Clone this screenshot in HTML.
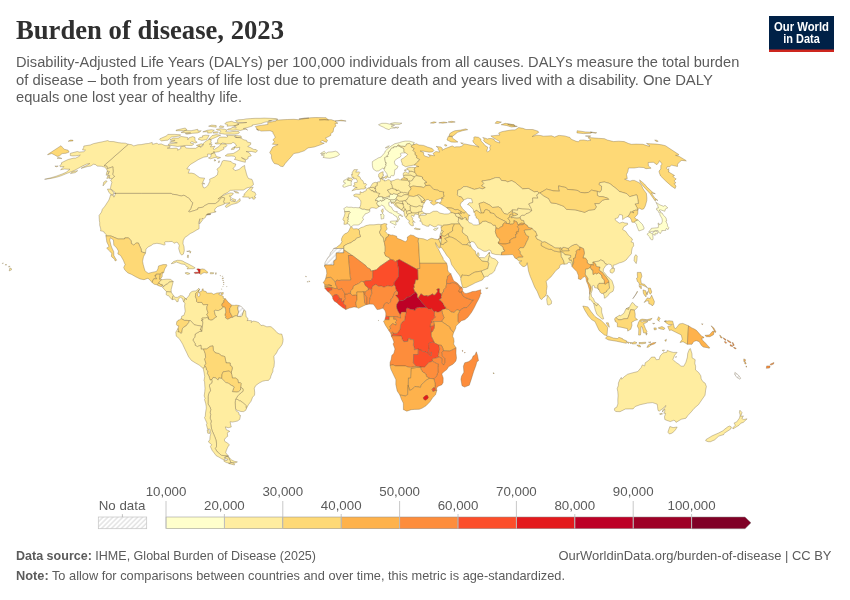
<!DOCTYPE html>
<html lang="en">
<head>
<meta charset="utf-8">
<title>Burden of disease, 2023</title>
<style>
html,body{margin:0;padding:0;background:#fff;}
body{width:850px;height:600px;overflow:hidden;}
svg{display:block;}
text{font-family:"Liberation Sans",sans-serif;}
.ttl{font-family:"Liberation Serif",serif;font-weight:bold;font-size:27px;fill:#2f2f2f;}
.sub{font-size:14px;fill:#5b5b5b;}
.ft{font-size:13px;fill:#5b5b5b;}
.lg{font-size:13.3px;fill:#5b5b5b;text-anchor:middle;}
.logo{font-weight:bold;font-size:12.2px;fill:#fff;text-anchor:middle;}
#map path{stroke:#6b5a3a;stroke-opacity:.75;stroke-width:.45;stroke-linejoin:round;}
</style>
</head>
<body>
<svg width="850" height="600" viewBox="0 0 850 600">
<rect width="850" height="600" fill="#fff"/>
<defs>
<pattern id="hatch" width="3.5" height="3.5" patternUnits="userSpaceOnUse" patternTransform="rotate(45)">
<rect width="3.5" height="3.5" fill="#fff"/><line x1="1" y1="0" x2="1" y2="3.5" stroke="#dadada" stroke-width="1.1"/>
</pattern>
</defs>
<text class="ttl" x="16" y="39" textLength="268" lengthAdjust="spacingAndGlyphs">Burden of disease, 2023</text>
<text class="sub" x="16" y="67" textLength="723.3" lengthAdjust="spacingAndGlyphs">Disability-Adjusted Life Years (DALYs) per 100,000 individuals from all causes. DALYs measure the total burden</text>
<text class="sub" x="16" y="84.7" textLength="696.8" lengthAdjust="spacingAndGlyphs">of disease – both from years of life lost due to premature death and years lived with a disability. One DALY</text>
<text class="sub" x="16" y="102.4" textLength="226" lengthAdjust="spacingAndGlyphs">equals one lost year of healthy life.</text>
<g id="logo">
<rect x="769" y="16" width="65" height="36" fill="#002147"/>
<rect x="769" y="49.5" width="65" height="2.5" fill="#ce261e"/>
<text class="logo" x="801.5" y="30.5" textLength="55" lengthAdjust="spacingAndGlyphs">Our World</text>
<text class="logo" x="801.5" y="42.5" textLength="36.5" lengthAdjust="spacingAndGlyphs">in Data</text>
</g>
<g id="map">
<path d="M128.2,144.3L131.3,144.6L133.8,145.9L137.7,144.8L141.3,144.6L145.6,143.7L148.4,143.5L152.2,142.4L152.4,144.3L157.1,143.2L158.2,144.3L161.2,143.9L165.1,145.6L170.0,145.9L170.1,147.4L167.2,148.1L170.7,148.5L176.2,148.1L178.0,149.0L177.6,150.3L181.1,148.3L180.4,146.8L184.9,146.1L185.8,147.9L189.6,148.3L195.6,148.3L197.6,147.0L199.6,145.6L200.6,147.4L203.1,145.4L203.1,143.5L206.3,140.9L209.5,139.2L211.3,139.8L210.8,141.7L211.6,143.2L209.2,144.1L212.2,144.6L210.4,146.8L215.0,146.3L213.0,149.0L214.4,149.4L219.2,146.3L221.0,143.9L225.9,144.1L226.9,145.4L226.0,146.8L223.5,147.4L224.1,149.0L218.8,151.7L214.0,152.4L213.9,151.2L214.0,152.4L210.6,154.2L207.6,154.0L207.6,156.5L203.6,157.2L201.7,158.1L198.2,159.7L194.9,161.8L190.8,164.2L188.6,166.3L186.8,169.0L189.7,169.4L188.2,173.1L191.5,173.1L194.4,173.8L196.0,175.0L199.8,177.7L204.7,178.2L202.2,183.4L202.6,185.4L203.4,187.6L204.9,187.9L207.6,185.9L209.9,181.2L209.6,179.2L214.6,177.0L217.4,174.8L218.0,171.1L216.9,169.2L220.3,166.3L222.4,161.1L223.8,160.4L228.0,160.9L231.2,161.6L232.7,163.2L235.8,164.0L235.1,166.3L232.9,168.7L234.0,169.2L235.0,170.7L239.1,169.4L242.2,166.8L244.6,165.4L245.0,168.7L245.8,171.1L246.5,174.0L247.4,176.5L248.5,178.5L252.0,179.4L253.0,182.2L253.5,184.6L250.6,187.1L247.0,187.9L243.3,190.1L239.3,190.1L235.3,190.1L230.2,190.4L227.3,192.7L223.6,194.4L220.6,197.2L217.9,199.0L222.0,196.2L225.7,194.4L230.2,192.9L233.2,193.2L233.3,193.9L231.2,196.0L229.2,196.0L231.2,197.2L230.2,200.3L231.6,201.1L232.5,201.3L236.5,201.8L240.0,198.5L240.2,201.1L237.2,203.1L231.5,204.6L226.5,207.5L225.3,206.7L226.3,204.9L230.0,202.8L227.9,203.1L224.7,203.4L224.0,202.8L223.5,201.8L224.7,198.2L223.9,197.7L222.1,197.5L219.9,199.3L218.6,201.3L215.3,203.6L208.7,203.6L204.6,205.7L203.0,207.2L197.9,208.0L197.9,209.3L195.2,210.3L189.3,212.1L188.4,211.1L190.1,209.8L190.7,208.7L192.8,202.8L191.3,201.6L190.0,199.8L189.6,198.8L184.0,195.2L181.3,196.0L179.1,195.5L176.0,194.7L172.0,194.2L171.3,193.4L141.3,193.4L114.5,193.4L115.2,192.7L113.2,190.9L110.4,188.6L110.9,185.9L111.9,182.2L110.6,180.2L112.4,178.5L114.5,176.2L112.6,174.5L113.2,171.4L112.9,168.7L112.9,166.8L107.3,168.7L107.0,166.3L104.0,165.6ZM113.3,194.9L110.5,194.2L108.9,192.2L107.4,189.1L110.0,189.1L112.4,190.7L113.6,192.7ZM103.0,185.9L103.7,182.2L105.9,180.7L107.1,181.2L105.2,183.4ZM242.5,197.0L244.8,194.7L243.9,194.4L248.4,189.6L250.5,187.6L253.2,187.1L251.2,190.4L251.9,191.2L255.0,192.4L255.9,194.7L254.1,197.0L255.8,197.2L254.3,199.3L252.7,199.0L252.8,197.2L249.1,198.8L249.1,197.2ZM231.3,199.5L232.4,198.5L236.1,199.9L234.7,201.1L232.8,200.5ZM233.9,191.2L237.6,191.9L238.8,193.2L235.4,192.7ZM257.5,151.0L256.2,149.6L253.7,149.4L250.4,147.6L247.7,146.5L250.6,144.6L250.8,142.8L247.2,142.0L246.6,140.4L243.8,139.8L242.1,138.7L239.7,137.7L235.9,137.5L235.8,135.6L233.4,135.6L228.9,135.4L226.5,135.4L228.0,136.4L226.4,137.3L225.0,137.1L219.9,137.1L217.9,139.2L217.4,141.3L218.1,142.4L214.9,143.2L216.0,143.9L221.0,143.9L222.5,143.0L226.9,143.9L231.2,143.7L232.9,142.4L234.5,143.0L236.5,145.6L233.8,147.2L236.7,147.9L239.7,147.2L239.4,149.6L236.4,151.7L233.2,153.5L227.7,154.0L226.1,155.1L225.2,155.8L227.2,156.2L231.4,156.0L234.2,156.2L236.0,157.9L234.3,159.3L238.2,160.4L239.7,160.9L243.2,161.8L245.3,162.3L245.5,160.2L241.4,157.6L246.1,159.7L248.1,158.6L248.0,156.9L251.3,155.8L249.3,152.8L246.1,151.5L251.8,151.5L255.6,152.4ZM220.6,157.6L216.4,156.5L214.5,152.8L211.1,154.0L210.8,156.9L208.4,157.9L210.4,158.8L216.0,157.2L217.6,158.8ZM214.5,159.5L216.0,160.4L214.3,161.1ZM219.1,160.7L219.4,162.3L218.3,162.5ZM169.7,142.2L173.8,142.2L177.3,142.8L168.7,143.9L168.1,145.2L172.2,145.6L177.7,146.5L180.7,146.1L186.3,145.4L192.0,145.6L193.9,143.9L190.3,143.0L191.7,141.5L195.2,143.0L197.2,142.2L195.0,140.7L195.0,137.5L192.7,136.6L189.2,137.7L187.8,139.8L187.8,137.5L181.0,136.4L178.3,138.1L173.5,138.1L169.9,139.8L171.3,140.4L175.1,140.2ZM159.5,139.3L161.3,140.9L165.1,140.4L167.8,140.2L171.5,137.1L179.9,136.0L180.6,134.8L174.9,134.4L167.8,134.4L166.7,135.8L160.1,138.7ZM201.8,140.4L198.1,139.2L199.8,137.5L202.7,137.1L202.4,135.8L205.4,135.2L209.1,135.4L208.0,137.3L206.6,139.6ZM208.7,139.2L212.1,135.6L216.2,134.6L220.7,135.2L215.4,137.5L211.4,139.2ZM200.3,146.8L196.4,145.4L201.3,143.7L203.3,144.6ZM197.9,131.1L201.2,130.7L200.0,131.9L197.7,132.9L192.6,133.3L186.9,134.2L185.3,133.6L190.7,132.9L181.1,132.5L185.4,130.5L191.2,130.7L197.7,129.3L198.1,130.1ZM176.0,130.7L183.6,130.7L187.0,129.9L185.3,128.0L176.1,130.1ZM211.4,132.9L207.6,133.1L207.9,131.7L202.8,131.9L207.0,130.3L211.5,129.7L214.3,130.3ZM217.5,133.1L213.0,133.1L213.8,132.1L217.2,131.7L218.4,132.3ZM239.0,133.1L237.4,133.8L234.8,134.2L228.4,134.2L224.8,134.2L219.2,133.3L220.9,131.1L220.1,130.3L217.2,130.1L216.4,129.3L220.7,128.7L224.7,129.3L226.8,129.9L225.8,131.7L229.9,131.9L232.8,131.5L236.2,131.3L238.5,131.5L239.4,132.3ZM247.6,130.1L245.8,128.9L240.3,130.5L236.8,129.9L232.0,130.3L229.9,130.1L227.3,129.9L228.2,128.9L231.3,128.5L232.1,127.2L236.2,128.0L235.7,126.6L233.6,126.2L236.1,125.1L238.7,124.6L237.8,123.9L239.1,123.3L242.8,123.0L246.8,122.5L238.6,122.5L236.9,121.8L235.5,120.6L238.4,119.8L243.2,119.5L246.0,118.9L250.6,118.6L255.2,118.3L260.1,118.3L264.2,118.1L269.9,118.3L276.1,118.6L277.9,119.3L273.8,120.1L268.5,120.8L271.6,120.8L264.5,122.3L260.8,123.7L254.2,124.7L252.1,125.1L252.4,126.0L250.5,126.6L246.0,128.0L243.3,128.5L245.7,128.9ZM235.9,125.5L227.0,126.2L227.6,124.6L224.8,123.9L226.2,122.3L231.7,121.3L234.0,122.3L237.6,122.8L238.6,124.4ZM216.2,127.2L208.6,126.2L211.6,125.1L216.2,125.5ZM223.4,127.4L219.2,127.2L220.3,125.7L223.8,126.4ZM241.5,137.5L235.4,137.5L234.5,136.4L236.6,135.6L241.0,136.0ZM231.3,149.6L234.2,149.2L234.5,147.4L232.0,148.1ZM202.6,183.6L204.7,184.1L204.0,182.9Z" fill="#ffeda0"><title>Canada</title></path>
<path d="M114.5,193.4L141.3,193.4L171.3,193.4L172.0,194.2L176.0,194.7L179.1,195.5L181.3,196.0L184.0,195.2L189.6,198.8L190.0,199.8L191.3,201.6L192.8,202.8L190.7,208.7L190.1,209.8L188.4,211.1L189.3,212.1L195.2,210.3L197.9,209.3L197.9,208.0L203.0,207.2L204.6,205.7L208.7,203.6L215.3,203.6L218.6,201.3L219.9,199.3L222.1,197.5L223.9,197.7L224.7,198.2L223.5,201.8L224.0,202.8L224.4,204.1L220.9,205.4L217.4,206.7L215.2,208.7L214.6,210.0L214.7,211.6L215.9,211.2L215.7,212.1L212.9,212.6L211.1,213.1L207.1,214.2L210.8,213.9L209.5,214.7L206.3,214.9L205.5,217.3L203.0,219.2L202.1,218.0L202.3,220.4L199.5,224.0L199.7,220.4L200.0,218.6L198.9,221.7L198.5,223.7L199.1,224.5L199.1,228.7L196.3,230.2L192.9,232.3L190.2,233.6L187.5,235.7L184.8,237.5L183.2,240.7L183.0,243.8L184.0,246.6L184.3,250.8L183.3,254.2L181.6,255.1L180.1,253.2L178.7,248.5L179.3,245.3L177.7,242.7L176.4,242.3L174.0,243.3L172.2,241.4L168.4,241.7L165.5,241.7L164.7,242.2L165.0,244.6L164.5,245.1L162.6,244.6L160.1,243.8L156.9,243.3L153.0,244.0L151.5,245.3L148.3,246.9L146.0,249.0L145.5,253.0L141.4,251.9L141.1,249.0L139.6,245.9L138.4,243.0L135.9,243.1L133.8,245.1L131.3,243.5L131.2,240.9L128.6,237.9L124.8,237.9L124.5,239.0L118.1,239.0L111.0,236.0L105.9,235.9L106.0,234.4L104.3,232.7L104.3,232.0L102.9,231.3L100.5,230.8L100.8,229.1L99.7,225.3L99.7,222.4L99.4,220.9L99.2,217.8L99.1,215.4L101.5,212.1L102.3,209.3L104.9,206.2L108.6,200.5L109.3,199.0L110.6,194.9L113.5,195.6L113.9,197.2L115.7,193.4ZM128.2,144.3L125.5,143.2L121.6,143.0L118.1,142.6L113.7,141.6L109.7,141.5L107.7,140.6L102.8,141.7L98.3,142.6L93.3,143.7L90.2,145.0L83.8,146.0L83.7,147.4L82.5,149.9L85.5,150.1L83.9,151.7L79.3,152.1L77.3,151.5L70.3,153.3L70.3,155.6L72.2,155.9L75.9,155.8L80.3,155.1L78.8,156.5L75.4,158.2L73.8,158.1L68.1,159.5L63.8,161.6L61.4,162.8L61.6,164.2L59.8,165.4L60.3,166.8L63.9,166.5L62.2,168.5L60.6,169.7L64.6,169.0L67.4,169.2L70.0,169.2L66.1,172.3L62.2,174.0L56.2,176.2L51.2,177.7L44.6,179.3L47.9,178.9L52.2,178.2L57.3,177.0L61.1,175.8L67.1,173.3L70.8,171.9L74.4,170.4L78.5,168.2L82.6,165.9L86.9,164.0L89.8,163.5L86.5,165.6L82.1,167.5L81.1,168.4L87.3,166.6L90.6,166.1L93.6,164.2L95.8,164.7L97.1,166.1L101.4,166.3L104.4,167.0L106.4,168.7L107.3,170.7L108.5,172.3L107.8,175.3L109.6,177.5L109.5,178.7L112.4,178.5L114.5,176.2L112.6,174.5L113.2,171.4L112.9,168.7L112.9,166.8L107.3,168.7L107.0,166.3L104.0,165.6ZM70.5,173.6L75.3,172.6L77.7,170.7L75.3,171.1L72.0,172.1ZM58.2,166.1L54.9,166.1L56.2,166.8ZM61.9,158.6L57.1,158.3L58.1,157.4L60.7,157.9ZM106.8,178.5L107.9,175.5L109.8,175.5L108.8,178.0ZM106.2,175.3L106.6,172.8L107.2,171.1L109.5,171.4L108.4,173.6ZM9.2,270.9L11.5,269.8L11.3,268.5L9.9,268.0ZM8.5,267.0L9.9,266.7L9.4,265.9ZM5.3,265.1L6.5,265.1L6.0,264.1ZM2.3,263.6L3.3,263.3L3.0,262.8ZM206.3,214.9L210.7,214.2L208.7,214.0Z" fill="#ffeda0"><title>United States</title></path>
<path d="M255.3,126.6L258.5,130.7L256.2,128.9L261.2,131.1L270.0,130.7L273.0,131.9L272.9,133.1L274.2,135.0L275.2,137.3L272.9,140.0L274.5,141.7L272.4,144.3L278.1,144.6L272.8,147.0L271.4,149.6L269.7,152.6L271.5,155.1L271.4,157.9L272.6,161.1L274.3,163.5L278.1,164.4L280.6,166.3L283.1,166.6L285.2,163.5L288.7,159.5L291.7,156.2L293.8,153.5L298.3,152.8L304.3,150.8L308.0,147.9L314.2,147.0L320.6,144.8L324.3,143.2L320.4,142.2L322.1,140.4L326.4,142.4L327.5,140.2L325.4,138.1L327.7,137.1L330.8,135.4L330.7,133.6L333.1,131.9L333.8,127.8L336.0,125.9L334.9,123.7L337.9,123.2L335.1,121.3L341.2,120.1L346.1,121.1L340.4,120.8L334.4,120.8L331.4,119.7L326.6,119.5L319.1,119.7L319.6,120.0L324.6,119.8L328.7,120.3L326.1,117.7L315.8,117.5L311.0,117.7L298.9,119.0L304.2,118.1L308.9,118.1L298.5,119.7L293.7,119.3L287.3,119.5L281.5,119.8L278.6,120.0L276.1,120.3L275.9,121.1L270.8,122.0L267.6,122.5L268.0,124.4L264.2,124.9L257.5,125.9Z" fill="#fed976"><title>Greenland</title></path>
<path d="M105.9,235.9L111.0,236.0L118.1,239.0L124.5,239.0L124.8,237.9L128.6,237.9L131.2,240.9L131.3,243.5L133.8,245.1L135.9,243.1L138.4,243.0L139.6,245.9L141.1,249.0L141.4,251.9L145.5,253.0L143.5,256.8L142.6,261.2L143.2,264.6L144.4,268.8L145.0,270.6L146.2,271.9L148.3,273.3L150.6,272.7L154.1,271.9L156.5,271.4L157.9,269.0L158.6,265.9L163.1,264.6L166.5,264.6L166.8,265.7L164.7,269.0L163.6,272.9L162.9,272.4L162.5,272.4L160.4,273.9L160.3,274.2L156.1,274.2L155.9,275.7L154.9,275.7L156.8,278.8L153.8,278.8L152.6,280.9L152.3,282.7L148.9,278.9L147.6,278.4L144.0,279.7L140.0,278.9L135.5,276.7L131.7,274.5L127.9,272.9L124.9,270.1L123.7,267.5L125.1,264.6L123.3,260.2L120.6,255.5L117.8,253.9L118.5,251.1L116.6,247.9L113.8,245.1L113.4,239.9L110.3,237.8L109.8,240.1L110.9,245.1L111.9,247.9L113.7,251.6L113.9,255.5L115.0,257.6L116.6,260.2L115.1,261.0L114.7,259.4L111.4,256.5L111.7,253.4L109.4,250.8L106.7,248.2L109.0,246.4L106.8,242.0L106.3,238.1Z" fill="#fed976"><title>Mexico</title></path>
<path d="M152.3,282.7L152.6,280.9L153.8,278.8L156.8,278.8L154.9,275.7L155.9,275.7L156.1,274.2L160.3,274.2L159.6,279.2L160.3,279.2L161.8,279.7L159.3,281.9L158.9,283.1L157.0,284.8L154.3,284.3Z" fill="#fed976"><title>Guatemala</title></path>
<path d="M160.3,274.2L160.4,273.9L162.5,272.4L162.9,272.4L162.2,274.8L162.2,276.6L160.3,279.2L159.6,279.2Z" fill="#fed976"><title>Belize</title></path>
<path d="M157.0,284.8L158.9,283.1L160.7,284.3L162.5,284.7L162.2,285.7L162.0,286.4L160.5,286.4L157.6,285.4Z" fill="#fed976"><title>El Salvador</title></path>
<path d="M161.8,279.7L159.3,281.9L158.9,283.1L160.7,284.3L162.5,284.7L162.2,285.7L163.1,285.7L163.2,286.7L164.6,286.0L166.2,284.1L167.1,284.5L169.1,282.1L173.2,281.5L172.7,280.9L170.3,279.3L166.9,279.2L163.5,279.5Z" fill="#ffeda0"><title>Honduras</title></path>
<path d="M173.2,281.5L169.1,282.1L167.1,284.5L166.2,284.1L164.6,286.0L163.2,286.7L162.3,287.0L164.8,289.9L166.5,291.7L168.8,291.8L171.2,292.1L171.2,289.4L171.9,286.7L172.6,284.1Z" fill="#ffeda0"><title>Nicaragua</title></path>
<path d="M166.5,291.7L168.8,291.8L171.2,292.1L173.5,295.7L172.6,297.0L172.4,299.6L170.9,298.6L168.5,295.6L167.6,295.6L166.1,294.6L166.4,292.2Z" fill="#ffeda0"><title>Costa Rica</title></path>
<path d="M173.5,295.7L172.6,297.0L172.4,299.6L174.5,299.2L176.3,300.7L176.9,301.9L178.3,301.3L178.2,299.2L180.4,297.3L182.6,298.7L183.2,301.1L183.8,301.9L185.3,298.1L182.7,296.0L180.5,295.6L177.4,297.4L175.1,297.3L174.2,296.6Z" fill="#ffeda0"><title>Panama</title></path>
<path d="M171.2,263.7L173.6,261.5L176.0,260.7L177.4,260.3L180.6,260.4L182.7,261.0L184.8,262.3L188.0,263.8L191.2,265.5L193.4,266.7L195.2,267.9L193.1,268.8L190.9,268.7L187.0,268.9L188.3,267.2L186.4,266.6L185.0,264.4L181.5,264.0L178.4,262.8L176.3,262.0L173.6,263.3Z" fill="#ffeda0"><title>Cuba</title></path>
<path d="M200.4,269.3L198.1,268.8L196.7,269.0L197.9,270.3L198.7,272.2L195.5,272.2L193.9,272.7L195.3,273.6L198.3,273.2L200.0,273.6Z" fill="#e31a1c"><title>Haiti</title></path>
<path d="M200.4,269.3L200.0,273.6L200.7,274.6L202.9,273.1L204.3,272.6L207.2,273.2L207.9,272.2L206.5,271.1L204.6,269.4L202.6,268.9Z" fill="#fed976"><title>Dominican Republic</title></path>
<path d="M185.0,272.9L187.0,272.4L189.7,273.3L189.6,274.0L187.5,274.4L185.3,273.3Z" fill="#ffeda0"><title>Jamaica</title></path>
<path d="M210.4,272.6L213.9,272.8L213.3,273.7L210.3,273.8Z" fill="#ffeda0"><title>Puerto Rico</title></path>
<path d="M187.6,255.0L188.5,255.2L188.3,257.8L187.3,257.3ZM189.3,250.6L190.9,251.6L190.2,253.2L189.7,251.9ZM186.7,251.3L189.0,251.1L188.2,251.6Z" fill="#ffeda0"><title>Bahamas</title></path>
<path d="M222.2,276.3L222.6,275.9L222.6,276.5ZM222.2,278.2L223.6,277.9L222.6,279.1ZM222.8,280.1L223.3,280.4L223.0,281.0ZM223.3,282.1L224.1,282.6L223.6,283.1ZM223.5,284.1L223.8,284.5L223.5,284.8ZM226.6,286.1L227.0,286.5L226.7,286.6ZM222.9,286.0L223.1,286.4L222.9,286.5ZM221.6,288.8L221.9,289.1L221.6,289.4ZM220.1,275.4L220.6,275.7L220.3,275.9ZM215.6,272.8L216.3,272.8L215.8,274.5Z" fill="#fed976"><title>Lesser Antilles</title></path>
<path d="M221.3,292.7L223.3,292.5L223.1,294.3L221.1,294.4Z" fill="#fed976"><title>Trinidad and Tobago</title></path>
<path d="M185.3,298.1L186.5,299.8L186.5,298.2L188.5,296.4L189.5,294.6L189.8,293.3L191.5,291.8L192.9,291.2L195.7,290.9L197.6,289.6L198.8,288.2L199.7,289.7L197.5,291.7L195.8,293.4L195.4,296.4L196.0,298.2L196.6,298.9L196.5,301.3L197.6,302.4L201.8,302.4L203.2,304.7L207.8,304.5L206.9,306.8L206.8,309.0L208.0,312.7L206.7,314.7L208.1,316.4L208.9,319.3L208.3,319.3L207.7,317.0L205.8,318.0L202.0,318.1L202.0,319.5L203.5,319.7L203.0,320.2L201.5,320.3L201.5,320.6L203.0,321.7L201.9,331.3L201.1,329.9L200.1,329.9L201.6,326.1L196.6,325.3L194.3,324.8L190.5,320.6L189.4,320.6L187.1,320.4L184.5,320.4L181.2,318.7L181.8,316.0L183.9,315.4L185.2,311.3L184.6,306.3L184.9,303.4L183.8,301.9Z" fill="#ffeda0"><title>Colombia</title></path>
<path d="M199.7,289.7L198.1,290.7L198.8,292.1L199.5,292.1L202.1,290.9L202.2,289.1L203.2,288.8L203.2,290.7L206.2,291.6L206.6,293.0L209.3,293.1L211.4,293.0L213.6,294.3L215.7,293.5L216.9,293.0L220.8,292.7L219.2,293.5L218.9,294.6L221.4,295.3L223.3,296.4L223.3,298.3L225.4,298.7L223.5,301.1L224.4,302.1L222.5,303.2L221.8,305.1L223.2,307.1L221.6,309.0L218.4,310.6L215.2,310.3L214.2,310.9L215.5,315.7L216.9,316.7L215.5,317.4L213.2,319.4L211.9,320.1L210.2,320.1L208.9,319.3L208.1,316.4L206.7,314.7L208.0,312.7L206.8,309.0L206.9,306.8L207.8,304.5L203.2,304.7L201.8,302.4L197.6,302.4L196.5,301.3L196.6,298.9L196.0,298.2L195.4,296.4L195.8,293.4L197.5,291.7Z" fill="#fed976"><title>Venezuela</title></path>
<path d="M198.8,292.2L199.7,293.0L200.0,295.1L198.8,296.9L197.7,295.9L197.9,293.5Z" fill="#ffffff"><title>Lake Maracaibo</title></path>
<path d="M225.4,298.7L228.5,302.6L229.3,302.9L231.5,305.1L231.1,306.8L229.7,308.1L229.8,312.0L232.8,317.4L231.0,317.4L229.3,318.6L227.5,319.3L225.4,317.8L225.7,316.4L224.8,315.1L225.7,312.3L225.5,309.3L224.7,307.1L223.2,307.1L221.8,305.1L222.5,303.2L224.4,302.1L223.5,301.1Z" fill="#feb24c"><title>Guyana</title></path>
<path d="M231.5,305.1L234.2,305.4L236.2,305.1L238.8,305.5L237.7,307.6L238.6,312.0L237.4,316.4L236.1,315.6L234.0,316.4L232.8,317.4L229.8,312.0L229.7,308.1L231.1,306.8Z" fill="#fed976"><title>Suriname</title></path>
<path d="M238.8,305.5L241.1,306.4L242.6,307.8L244.1,309.9L242.1,315.7L241.1,316.7L237.4,316.4L238.6,312.0L237.7,307.6Z" fill="url(#hatch)"><title>French Guiana</title></path>
<path d="M244.1,309.9L245.6,310.9L246.2,317.0L247.8,318.1L248.0,319.8L246.9,320.6L248.7,320.5L251.5,320.7L251.3,322.6L252.9,321.0L255.9,321.5L258.6,322.6L260.3,324.5L261.0,325.5L263.1,325.2L266.8,326.8L269.8,326.6L271.1,326.8L274.4,329.6L277.2,332.8L279.1,333.9L281.8,334.1L282.7,337.5L283.1,339.2L282.9,341.7L282.0,344.8L279.6,347.9L278.0,349.8L276.1,353.7L275.0,354.5L273.9,356.3L274.1,359.1L274.4,362.3L274.0,366.7L273.0,368.8L272.9,371.6L271.9,373.5L270.5,377.1L270.6,377.9L268.5,380.4L265.8,380.5L262.4,381.3L259.0,383.1L255.6,385.7L254.3,388.3L254.7,392.5L254.6,395.1L252.6,397.2L251.0,401.3L248.6,404.5L246.4,408.5L245.9,406.8L246.4,405.8L242.8,402.6L240.3,400.9L239.4,400.8L237.5,399.5L235.6,399.2L238.0,395.6L239.0,394.6L240.5,393.0L243.0,391.3L243.0,388.8L240.7,387.3L241.0,383.4L240.3,382.6L238.5,383.0L237.7,379.5L235.6,378.1L232.4,378.1L231.4,373.1L232.0,372.5L231.3,372.2L232.4,368.0L231.7,366.3L230.2,365.4L230.2,363.0L226.0,362.9L225.5,359.9L224.7,356.5L221.7,355.8L218.6,353.5L215.6,353.0L213.4,350.5L212.9,345.9L210.2,346.4L206.6,349.0L203.5,349.1L201.1,349.2L200.9,345.2L197.3,346.6L194.9,345.1L195.4,344.0L192.9,340.1L193.5,338.6L194.7,337.5L195.2,334.0L199.9,331.3L201.9,331.3L203.0,321.7L201.5,320.6L201.5,320.3L203.0,320.2L203.5,319.7L202.0,319.5L202.0,318.1L205.8,318.0L207.7,317.0L208.3,319.3L208.9,319.3L210.2,320.1L211.9,320.1L213.2,319.4L215.5,317.4L216.9,316.7L215.5,315.7L214.2,310.9L215.2,310.3L218.4,310.6L221.6,309.0L223.2,307.1L224.7,307.1L225.5,309.3L225.7,312.3L224.8,315.1L225.7,316.4L225.4,317.8L227.5,319.3L229.3,318.6L231.0,317.4L232.8,317.4L234.0,316.4L236.1,315.6L237.4,316.4L241.1,316.7L242.1,315.7Z" fill="#ffeda0"><title>Brazil</title></path>
<path d="M181.2,318.7L184.5,320.4L187.1,320.4L189.4,320.6L188.7,322.6L186.2,325.8L183.7,327.2L182.5,328.5L181.8,332.5L181.0,333.6L179.7,332.0L177.8,332.0L178.5,330.3L178.0,328.5L178.8,325.8L177.7,326.0L176.4,324.5L176.8,321.5L178.3,320.6L178.4,320.0L179.7,319.7Z" fill="#fed976"><title>Ecuador</title></path>
<path d="M178.0,328.5L175.8,332.2L176.3,336.2L179.2,338.6L181.4,342.0L182.7,344.3L185.1,349.5L186.4,352.1L188.6,356.8L191.4,360.4L195.5,363.0L199.2,365.1L203.1,368.4L204.2,367.7L205.0,366.2L204.7,365.4L205.9,363.6L205.1,360.4L204.6,359.1L205.6,357.6L205.3,353.7L203.5,349.1L201.1,349.2L200.9,345.2L197.3,346.6L194.9,345.1L195.4,344.0L192.9,340.1L193.5,338.6L194.7,337.5L195.2,334.0L199.9,331.3L201.9,331.3L201.1,329.9L200.1,329.9L201.6,326.1L196.6,325.3L194.3,324.8L190.5,320.6L189.4,320.6L188.7,322.6L186.2,325.8L183.7,327.2L182.5,328.5L181.8,332.5L181.0,333.6L179.7,332.0L177.8,332.0L178.5,330.3Z" fill="#ffeda0"><title>Peru</title></path>
<path d="M203.5,349.1L206.6,349.0L210.2,346.4L212.9,345.9L213.4,350.5L215.6,353.0L218.6,353.5L221.7,355.8L224.7,356.5L225.5,359.9L226.0,362.9L230.2,363.0L230.2,365.4L231.7,366.3L232.4,368.0L231.3,372.2L232.0,372.5L231.4,373.1L229.1,371.0L223.2,371.8L222.1,374.1L221.7,378.5L218.8,377.9L218.1,380.1L215.9,378.1L213.3,377.4L211.8,379.7L211.6,380.1L210.1,380.1L208.9,376.1L207.4,373.7L207.8,371.1L206.5,370.1L206.1,368.0L205.0,366.2L204.7,365.4L205.9,363.6L205.1,360.4L204.6,359.1L205.6,357.6L205.3,353.7Z" fill="#fed976"><title>Bolivia</title></path>
<path d="M231.4,373.1L232.4,378.1L235.6,378.1L237.7,379.5L238.5,383.0L240.3,382.6L241.0,383.4L240.7,387.3L240.6,390.0L238.4,391.8L236.8,392.1L232.3,391.7L234.0,387.3L233.7,386.5L231.1,385.2L228.1,383.1L225.8,382.6L221.7,378.5L222.1,374.1L223.2,371.8L229.1,371.0Z" fill="#fed976"><title>Paraguay</title></path>
<path d="M235.6,399.2L237.5,399.5L239.4,400.8L240.3,400.9L242.8,402.6L246.4,405.8L245.9,406.8L246.4,408.5L245.8,410.2L243.6,411.6L240.9,411.5L237.1,410.3L235.6,408.9L235.3,405.2L235.1,402.6L235.4,400.7Z" fill="#ffeda0"><title>Uruguay</title></path>
<path d="M211.6,380.1L211.8,379.7L213.3,377.4L215.9,378.1L218.1,380.1L218.8,377.9L221.7,378.5L225.8,382.6L228.1,383.1L231.1,385.2L233.7,386.5L234.0,387.3L232.3,391.7L236.8,392.1L238.4,391.8L240.6,390.0L240.7,387.3L243.0,388.8L243.0,391.3L240.5,393.0L239.0,394.6L238.0,395.6L235.6,399.2L235.4,400.7L235.1,402.6L235.3,405.2L235.6,408.9L235.8,409.9L236.0,410.7L238.9,412.8L239.1,414.9L240.5,415.4L239.7,419.5L237.3,421.1L232.4,422.1L230.1,421.7L230.8,425.2L231.3,427.0L228.3,427.7L225.3,426.9L226.4,429.9L228.2,430.4L229.8,431.4L227.9,432.2L227.4,433.2L227.7,436.3L225.7,437.8L224.3,439.9L224.8,441.4L227.1,442.8L229.4,444.7L227.8,447.0L227.0,448.8L226.2,450.8L225.7,452.7L228.5,456.2L221.3,455.3L219.5,453.6L217.2,451.8L215.2,448.5L216.5,446.5L216.5,443.2L215.9,439.9L214.9,437.1L213.6,434.0L211.9,430.1L211.2,427.0L210.7,423.4L211.3,421.1L210.1,418.2L210.7,414.6L210.1,412.3L210.8,409.7L210.1,407.3L208.0,403.9L208.1,399.8L208.1,396.4L208.9,393.0L210.5,390.6L209.4,386.2L209.6,384.4L211.7,383.1L212.1,380.5ZM228.4,456.9L230.9,462.5L235.1,462.9L237.4,461.9L234.4,461.3L231.7,460.0L229.7,458.1Z" fill="#ffeda0"><title>Argentina</title></path>
<path d="M203.1,368.4L204.2,367.7L205.0,366.2L206.1,368.0L206.5,370.1L207.8,371.1L207.4,373.7L208.9,376.1L210.1,380.1L211.6,380.1L212.1,380.5L211.7,383.1L209.6,384.4L209.4,386.2L210.5,390.6L208.9,393.0L208.1,396.4L208.1,399.8L208.0,403.9L210.1,407.3L210.8,409.7L210.1,412.3L210.7,414.6L210.1,418.2L211.3,421.1L210.7,423.4L211.2,427.0L211.9,430.1L213.6,434.0L214.9,437.1L215.9,439.9L216.5,443.2L216.5,446.5L215.2,448.5L217.2,451.8L219.5,453.6L221.3,455.3L228.5,456.2L226.5,456.6L224.3,457.3L225.0,459.3L224.5,460.0L221.6,458.8L218.9,457.1L216.3,455.8L214.0,452.8L212.1,450.3L210.4,446.5L211.7,444.7L208.4,441.9L209.8,439.6L210.1,436.3L210.8,433.7L210.4,431.2L209.9,429.1L207.6,429.1L206.4,424.7L207.0,423.2L205.3,419.5L204.5,417.5L205.3,416.2L205.5,413.0L206.3,408.1L206.2,406.5L205.7,403.4L204.5,399.5L205.1,398.5L204.2,395.9L204.8,391.2L205.0,388.3L204.7,384.4L204.6,381.8L204.0,380.8L204.7,376.6L204.2,373.2L203.5,369.8ZM208.4,429.5L207.2,429.9L207.7,433.2L209.7,433.5L209.0,430.7ZM228.4,456.9L226.7,456.6L225.1,457.3L225.8,459.0L228.0,459.0L227.1,460.5L224.3,460.3L223.6,461.0L226.2,462.5L229.5,463.2L230.9,462.5ZM231.4,462.7L234.1,463.2L234.5,465.0L231.3,464.2L228.6,463.5Z" fill="#ffeda0"><title>Chile</title></path>
<path d="M322.9,157.4L327.0,158.1L329.9,158.3L333.9,157.4L337.2,156.2L339.5,154.6L338.0,152.4L335.6,151.2L332.0,151.9L328.0,152.1L326.0,153.5L324.3,151.3L321.5,152.8L320.5,153.5L324.8,153.7L321.1,154.9L324.4,156.0Z" fill="#ffffcc"><title>Iceland</title></path>
<path d="M351.4,185.4L351.1,182.7L351.5,180.9L351.0,180.7L349.0,180.5L347.3,179.8L348.7,179.2L349.1,178.3L349.0,177.6L347.2,178.2L346.4,179.4L343.8,180.4L343.5,182.2L345.6,183.0L344.5,184.1L342.7,185.6L343.0,186.9L344.4,187.3L346.8,186.4L349.4,185.5Z" fill="#ffffcc"><title>Ireland</title></path>
<path d="M351.8,190.8L354.8,190.0L356.4,189.4L359.2,189.4L361.2,189.0L363.8,189.0L366.0,188.0L366.0,187.4L364.6,187.1L365.2,186.4L366.6,184.6L365.7,183.5L363.8,183.8L363.8,183.1L363.4,181.9L362.8,180.7L360.9,179.4L360.1,177.5L359.4,176.5L357.5,176.0L358.2,175.3L359.2,173.6L359.8,172.3L359.4,171.9L355.7,172.1L357.0,170.2L357.6,169.6L353.9,169.7L353.3,170.7L352.2,172.6L352.5,174.8L351.4,174.3L352.2,177.7L353.8,177.2L353.5,178.9L356.3,178.7L356.6,179.7L357.4,180.9L357.1,182.4L354.6,182.5L354.2,183.9L355.1,184.9L352.9,186.1L354.7,186.9L357.2,187.6L354.9,187.9L352.8,190.1ZM351.5,180.8L352.6,179.8L352.0,178.8L351.3,178.0L349.7,178.0L349.1,178.3L348.7,179.2L347.3,179.8L349.0,180.5L351.0,180.7Z" fill="#ffeda0"><title>United Kingdom</title></path>
<path d="M383.9,168.7L382.7,168.2L381.5,169.0L378.6,170.9L376.3,171.1L373.6,169.4L372.8,167.8L372.4,165.4L372.3,163.2L372.4,161.6L374.5,160.2L376.6,159.0L378.3,157.9L380.8,157.2L381.6,156.0L383.0,154.9L384.6,152.8L385.3,151.0L386.8,149.6L388.2,148.3L389.5,147.4L391.0,146.1L393.1,144.8L394.8,143.7L397.2,143.2L399.5,142.6L402.1,141.7L405.4,141.1L409.4,141.1L414.4,142.6L413.1,144.1L414.7,144.4L413.3,144.8L411.8,145.5L409.6,143.3L406.5,144.1L406.2,145.2L405.2,146.5L402.8,146.3L400.9,146.3L398.8,145.0L397.7,145.5L397.0,146.8L393.8,146.8L393.6,147.9L391.6,148.1L390.7,149.4L389.8,151.2L388.3,152.1L388.7,154.0L387.3,155.6L388.1,156.5L385.7,156.9L384.7,157.9L385.2,160.9L385.6,163.0L386.7,163.0L385.5,164.0L386.3,165.4L385.0,166.6L384.8,167.3L385.1,168.1ZM378.5,124.7L381.8,123.3L386.1,123.3L389.2,124.0L394.6,125.3L391.2,126.2L395.3,128.0L390.9,128.2L389.0,129.7L385.7,128.5L383.5,127.2L380.1,125.7ZM390.5,123.5L394.5,122.6L401.9,123.2L399.4,124.4L392.1,124.2ZM395.1,127.2L398.8,127.2L397.7,128.3ZM385.3,147.9L387.8,147.4L389.4,145.9L387.6,146.3Z" fill="#ffffcc"><title>Norway</title></path>
<path d="M383.9,168.7L384.4,170.4L385.6,171.9L386.9,173.8L387.4,175.5L388.0,177.2L388.6,177.6L390.5,177.5L390.6,176.2L391.3,175.6L393.6,175.8L394.4,174.3L394.6,171.9L394.8,169.7L396.5,169.0L397.9,166.8L398.0,166.3L395.1,164.7L394.4,162.3L394.7,160.7L396.3,159.3L398.4,157.9L400.1,157.2L401.1,155.6L400.4,153.7L401.8,153.0L405.2,152.8L404.1,151.7L404.0,150.5L404.0,149.0L403.1,148.1L400.3,146.8L398.5,145.9L397.7,145.5L397.0,146.8L393.8,146.8L393.6,147.9L391.6,148.1L390.7,149.4L389.8,151.2L388.3,152.1L388.7,154.0L387.3,155.6L388.1,156.5L385.7,156.9L384.7,157.9L385.2,160.9L385.6,163.0L386.7,163.0L385.5,164.0L386.3,165.4L385.0,166.6L384.8,167.3L385.1,168.1Z" fill="#ffffcc"><title>Sweden</title></path>
<path d="M405.2,152.8L407.4,154.0L407.7,154.6L406.4,155.8L403.8,157.9L401.3,159.3L401.2,160.7L402.2,163.5L402.2,164.7L404.2,165.9L405.5,166.7L409.0,166.0L411.9,165.4L414.2,165.0L416.4,163.2L417.7,162.0L419.7,159.5L416.5,157.6L417.0,155.8L415.3,154.9L415.1,153.0L415.6,153.0L413.0,150.3L414.3,148.5L411.3,146.8L411.8,145.5L409.6,143.3L406.5,144.1L406.2,145.2L405.2,146.5L402.8,146.3L400.9,146.3L398.8,145.0L397.7,145.5L398.5,145.9L400.3,146.8L403.1,148.1L404.0,149.0L404.0,150.5L404.1,151.7Z" fill="#ffeda0"><title>Finland</title></path>
<path d="M379.9,178.7L379.3,177.2L378.7,177.1L378.6,174.5L379.5,173.3L381.9,172.1L383.2,171.7L383.1,173.1L382.8,174.5L384.0,175.0L382.7,175.8L382.0,177.2L381.5,178.5L382.4,178.9ZM384.5,176.9L385.8,176.1L387.3,175.9L387.4,177.0L386.7,178.0L386.0,178.6L384.8,178.0ZM382.0,177.2L383.7,177.1L384.0,178.2L382.5,178.3Z" fill="#ffeda0"><title>Denmark</title></path>
<path d="M379.9,178.7L382.4,178.9L382.6,179.8L384.5,179.9L384.2,181.0L386.7,180.5L387.4,179.8L389.3,179.7L389.8,180.2L390.8,181.2L391.3,182.7L391.0,183.8L391.9,184.6L392.3,185.9L392.3,187.1L393.0,187.9L393.0,188.6L391.6,188.4L389.5,189.4L387.4,190.1L388.3,191.2L388.6,192.2L391.1,194.1L390.5,194.6L389.1,195.7L389.7,197.2L388.0,196.8L385.6,197.5L384.0,197.7L382.8,197.1L380.7,196.7L378.7,197.0L378.5,195.2L379.7,193.5L377.3,193.0L376.0,192.3L376.2,191.4L375.5,190.5L375.8,189.6L375.2,189.0L375.3,187.9L375.1,186.4L376.6,186.0L377.1,185.1L377.0,184.3L377.3,182.8L376.9,182.4L378.8,181.7L379.8,182.0L380.3,180.9L380.4,179.9Z" fill="#ffeda0"><title>Germany</title></path>
<path d="M377.3,182.8L377.0,184.3L377.1,185.1L376.6,186.0L375.1,186.4L375.3,187.9L375.2,189.0L374.6,188.9L374.7,188.0L373.1,187.3L371.7,187.5L369.9,187.5L371.1,185.9L372.2,183.9L372.6,183.4L373.9,182.7L375.3,182.3Z" fill="#ffeda0"><title>Netherlands</title></path>
<path d="M369.9,187.5L371.7,187.5L373.1,187.3L374.7,188.0L374.6,188.9L375.2,189.0L375.8,189.6L375.5,190.5L374.9,192.0L374.3,192.2L372.9,191.4L372.9,190.5L371.5,190.9L370.4,189.6L369.6,189.0L368.3,188.1Z" fill="#ffeda0"><title>Belgium</title></path>
<path d="M375.5,190.5L376.2,191.4L376.0,192.3L374.9,192.0Z" fill="#ffffcc"><title>Luxembourg</title></path>
<path d="M368.3,188.1L369.6,189.0L370.4,189.6L371.5,190.9L372.9,190.5L372.9,191.4L374.3,192.2L374.9,192.0L376.0,192.3L377.3,193.0L379.7,193.5L378.5,195.2L378.7,197.0L377.5,197.5L377.2,198.0L375.7,199.6L375.5,200.7L377.1,200.0L377.7,201.3L376.9,203.4L377.7,205.4L379.1,205.8L378.8,206.7L377.6,207.7L376.2,208.5L374.4,208.0L372.8,207.7L370.5,208.0L369.5,210.0L369.8,210.2L366.9,210.0L364.7,209.3L362.2,209.3L359.5,207.8L360.3,206.2L360.7,204.6L360.9,202.3L360.7,200.5L358.9,198.8L358.7,197.9L357.1,197.0L354.3,196.5L353.6,194.9L355.9,193.9L359.2,194.3L360.2,194.3L360.0,191.8L360.7,191.8L361.0,192.5L363.4,192.4L363.6,191.7L366.2,190.7L366.4,188.9ZM381.3,210.3L382.9,208.7L383.3,211.1L382.6,212.9L381.8,212.3Z" fill="#ffeda0"><title>France</title></path>
<path d="M369.8,210.2L369.9,211.6L367.8,213.0L365.1,213.9L364.7,214.7L363.2,216.7L362.6,217.8L363.6,219.7L362.1,220.9L361.7,222.6L359.1,224.4L358.7,225.0L355.6,225.0L353.7,225.0L351.6,226.5L350.2,226.3L349.6,225.4L349.4,224.5L347.2,223.7L347.2,222.7L348.2,221.1L347.6,220.5L348.2,218.8L347.2,217.4L348.3,217.3L348.5,215.7L348.8,213.9L350.1,212.3L349.3,211.4L346.0,211.7L344.6,211.6L344.5,210.0L343.7,208.7L345.9,207.3L346.7,206.8L348.6,207.3L351.3,207.2L353.8,207.7L355.7,207.5L356.9,207.7L359.5,207.8L362.2,209.3L364.7,209.3L366.9,210.0Z" fill="#ffffcc"><title>Spain</title></path>
<path d="M344.6,211.6L346.0,211.7L349.3,211.4L350.1,212.3L348.8,213.9L348.5,215.7L348.3,217.3L347.2,217.4L348.2,218.8L347.6,220.5L348.2,221.1L347.2,222.7L347.2,223.7L345.9,224.3L343.9,224.3L344.3,221.7L344.3,220.6L343.5,220.5L342.9,219.7L343.4,218.0L344.3,216.0L344.9,213.6Z" fill="#ffeda0"><title>Portugal</title></path>
<path d="M378.8,206.7L379.1,205.8L377.7,205.4L376.9,203.4L377.7,201.3L379.4,201.2L380.5,199.9L381.7,201.4L382.3,199.9L383.9,200.4L384.6,198.9L386.1,198.6L388.0,198.4L388.6,199.3L391.3,199.8L390.7,200.5L391.2,201.6L391.6,202.1L390.2,201.8L388.6,202.7L388.9,204.0L389.0,205.7L391.6,207.3L393.0,210.3L395.0,211.6L397.3,211.6L396.8,212.6L399.2,213.9L401.4,214.9L402.5,216.2L402.3,217.0L401.2,215.7L399.3,215.2L398.5,216.5L398.4,217.3L399.8,219.1L398.5,219.8L397.8,221.8L396.8,221.7L397.1,219.8L397.9,219.5L396.4,216.4L394.9,215.8L393.8,214.8L392.9,214.3L391.9,213.3L389.8,212.7L388.9,212.0L386.5,210.3L385.2,208.9L384.7,207.5L383.7,206.0L381.7,205.1L380.3,206.2ZM390.0,222.2L390.5,221.3L391.8,221.1L396.6,220.9L395.7,223.0L396.2,224.3L395.8,225.2L393.4,224.0L391.0,222.8ZM380.6,214.2L381.0,214.9L382.6,213.3L384.0,215.2L383.7,218.6L382.4,218.8L381.2,219.1L381.1,216.7Z" fill="#ffffcc"><title>Italy</title></path>
<path d="M378.7,197.0L380.7,196.7L382.8,197.1L382.6,198.2L384.6,198.9L383.9,200.4L382.3,199.9L381.7,201.4L380.5,199.9L379.4,201.2L377.7,201.3L377.1,200.0L375.5,200.7L375.7,199.6L377.2,198.0L377.5,197.5Z" fill="#ffffcc"><title>Switzerland</title></path>
<path d="M382.8,197.1L384.0,197.7L385.6,197.5L388.0,196.8L389.7,197.2L389.1,195.7L390.5,194.6L391.1,194.1L392.9,194.4L393.5,193.4L395.7,194.1L397.5,194.4L398.0,196.0L396.8,196.7L396.1,198.9L395.2,199.3L393.0,200.0L391.3,199.8L388.6,199.3L388.0,198.4L386.1,198.6L384.6,198.9L382.6,198.2Z" fill="#ffffcc"><title>Austria</title></path>
<path d="M387.4,190.1L389.5,189.4L391.6,188.4L393.0,188.6L393.9,188.9L395.8,189.3L395.6,189.9L397.0,189.9L396.6,190.7L398.6,190.1L401.1,192.2L399.7,193.2L397.9,193.8L397.5,194.4L395.7,194.1L393.5,193.4L392.9,194.4L391.1,194.1L388.6,192.2L388.3,191.2Z" fill="#ffeda0"><title>Czechia</title></path>
<path d="M397.5,194.4L397.9,193.8L399.7,193.2L401.1,192.2L402.4,192.0L403.1,192.9L404.6,192.4L408.7,193.2L408.1,194.9L406.7,194.7L404.7,194.7L402.8,195.6L401.4,196.5L398.0,196.0Z" fill="#ffeda0"><title>Slovakia</title></path>
<path d="M398.0,196.0L401.4,196.5L402.8,195.6L404.7,194.7L406.7,194.7L408.1,194.9L409.7,196.0L408.0,197.5L406.7,200.0L404.8,200.7L402.3,201.2L402.1,201.2L399.4,201.3L397.0,199.8L396.1,198.9L396.8,196.7Z" fill="#ffeda0"><title>Hungary</title></path>
<path d="M390.8,181.2L394.2,180.3L395.9,179.4L398.5,178.9L399.4,179.9L401.1,179.8L407.4,180.1L408.9,181.0L410.1,184.1L408.9,185.1L410.1,187.1L411.2,188.8L410.3,189.9L408.7,192.0L408.7,193.2L404.6,192.4L403.1,192.9L402.4,192.0L401.1,192.2L398.6,190.1L396.6,190.7L397.0,189.9L395.6,189.9L395.8,189.3L393.9,188.9L393.0,188.6L393.0,187.9L392.3,187.1L392.3,185.9L391.9,184.6L391.0,183.8L391.3,182.7Z" fill="#ffeda0"><title>Poland</title></path>
<path d="M404.1,177.8L403.4,175.8L405.1,175.0L410.6,175.0L414.2,176.7L414.3,177.7L413.0,178.7L412.6,180.2L410.7,181.2L408.9,181.0L407.4,180.1L407.2,178.7Z" fill="#ffeda0"><title>Lithuania</title></path>
<path d="M403.4,175.8L403.1,174.0L403.6,172.8L405.7,171.7L407.0,172.7L408.8,173.4L409.0,171.4L411.1,171.1L414.8,172.2L416.0,173.9L416.9,175.6L414.2,176.7L410.6,175.0L405.1,175.0Z" fill="#ffeda0"><title>Latvia</title></path>
<path d="M409.0,171.4L409.1,170.3L407.0,169.4L406.8,168.2L409.1,167.6L411.3,167.3L415.2,167.6L414.3,169.2L414.7,170.4L414.8,172.2L411.1,171.1ZM404.5,170.9L406.6,169.9L404.8,169.7Z" fill="#ffeda0"><title>Estonia</title></path>
<path d="M408.9,181.0L410.7,181.2L412.6,180.2L413.0,178.7L414.3,177.7L414.2,176.7L416.9,175.6L421.0,176.4L422.5,177.0L422.7,178.9L424.9,180.7L427.0,182.3L424.6,182.9L425.9,185.6L423.7,187.6L421.0,186.9L417.0,186.5L413.0,186.0L410.1,187.1L408.9,185.1L410.1,184.1Z" fill="#ffeda0"><title>Belarus</title></path>
<path d="M410.1,187.1L413.0,186.0L417.0,186.5L421.0,186.9L423.7,187.6L425.9,185.6L429.7,185.0L431.2,186.5L433.8,189.4L437.9,189.9L439.4,191.2L443.8,191.9L443.4,193.9L444.3,196.3L441.3,198.2L438.5,199.3L435.7,200.3L435.3,201.8L438.7,202.6L436.4,203.6L433.8,205.1L432.7,204.6L430.3,202.7L432.3,201.3L432.2,200.8L429.6,200.8L428.3,199.4L426.2,199.8L424.4,202.7L421.4,202.5L422.7,200.8L424.9,200.0L422.6,197.4L418.9,194.8L417.2,195.3L413.8,196.6L409.7,196.0L408.1,194.9L408.7,193.2L408.7,192.0L410.3,189.9L411.2,188.8Z" fill="#fed976"><title>Ukraine</title></path>
<path d="M417.2,195.3L418.9,194.8L422.6,197.4L424.9,200.0L422.7,200.8L421.4,202.5L420.8,199.5L418.5,196.7Z" fill="#ffeda0"><title>Moldova</title></path>
<path d="M404.8,200.7L406.7,200.0L408.0,197.5L409.7,196.0L413.8,196.6L417.2,195.3L418.5,196.7L420.8,199.5L421.4,202.5L424.4,202.7L422.8,205.1L422.8,206.8L419.3,205.8L416.2,207.1L410.4,205.7L409.6,204.4L407.5,204.1L407.6,203.1L406.0,201.7Z" fill="#ffeda0"><title>Romania</title></path>
<path d="M410.4,205.7L416.2,207.1L419.3,205.8L422.8,206.8L421.7,209.5L422.1,211.3L418.8,212.1L416.0,213.1L411.8,213.0L410.2,210.5L410.2,208.2L409.8,206.2Z" fill="#ffeda0"><title>Bulgaria</title></path>
<path d="M402.1,201.2L402.3,201.2L404.8,200.7L406.0,201.7L407.6,203.1L407.5,204.1L409.6,204.4L410.4,205.7L409.8,206.2L410.2,208.2L410.2,210.5L408.4,210.7L406.6,211.7L406.3,210.8L405.4,209.9L405.7,209.1L403.4,207.5L403.8,206.2L402.9,205.3L403.3,203.9L402.5,203.6L402.5,202.3Z" fill="#ffeda0"><title>Serbia</title></path>
<path d="M391.3,202.5L391.8,203.9L392.7,202.8L394.0,203.9L394.8,205.7L397.4,207.5L399.8,208.7L401.9,210.2L401.9,209.9L400.1,208.7L396.9,205.7L395.8,204.1L395.8,203.1L398.1,203.0L400.4,203.4L402.5,203.9L403.3,203.9L402.5,203.6L402.5,202.3L402.1,201.2L399.4,201.3L397.0,199.8L395.3,200.5L394.8,202.3L393.3,201.9Z" fill="#ffeda0"><title>Croatia</title></path>
<path d="M391.3,199.8L393.0,200.0L395.2,199.3L396.1,198.9L397.0,199.8L395.3,200.5L394.8,202.3L393.3,201.9L391.3,202.5L391.6,202.1L391.2,201.6L390.7,200.5Z" fill="#ffffcc"><title>Slovenia</title></path>
<path d="M395.8,204.1L396.9,205.7L400.1,208.7L401.9,209.9L402.0,209.8L403.4,207.5L403.8,206.2L402.9,205.3L403.3,203.9L402.5,203.9L400.4,203.4L398.1,203.0L395.8,203.1Z" fill="#ffeda0"><title>Bosnia and Herzegovina</title></path>
<path d="M401.9,210.2L402.0,209.8L403.4,207.5L405.7,209.1L405.4,209.9L404.3,209.9L404.0,211.7Z" fill="#ffeda0"><title>Montenegro</title></path>
<path d="M404.0,211.7L404.3,209.9L405.4,209.9L406.3,210.8L406.6,211.7L406.5,213.1L407.7,214.3L407.2,216.2L405.8,217.3L404.4,215.6L404.2,212.9Z" fill="#ffeda0"><title>Albania</title></path>
<path d="M406.6,211.7L408.4,210.7L410.2,210.5L411.8,213.0L409.7,213.5L407.7,214.3L406.5,213.1Z" fill="#ffeda0"><title>North Macedonia</title></path>
<path d="M405.8,217.3L407.2,216.2L407.7,214.3L409.7,213.5L411.8,213.0L416.0,213.1L418.8,212.1L418.4,214.5L414.9,214.0L414.2,215.4L414.0,216.5L412.9,215.8L411.8,215.2L411.3,216.5L413.0,218.6L412.2,219.3L414.9,222.6L414.1,221.7L412.6,221.9L413.2,223.5L413.4,225.7L411.9,225.8L410.1,224.8L408.6,222.2L409.7,220.9L407.5,219.6L406.3,218.3ZM414.3,228.7L415.3,228.0L417.7,228.6L420.4,228.9L420.0,229.5L417.0,229.6L414.3,228.8Z" fill="#ffeda0"><title>Greece</title></path>
<path d="M433.5,229.7L433.7,229.3L434.9,228.6L438.2,227.8L437.0,229.5L435.1,230.5Z" fill="#ffffcc"><title>Cyprus</title></path>
<path d="M394.0,226.9L394.7,227.1L394.4,227.4Z" fill="#ffffcc"><title>Malta</title></path>
<path d="M358.4,229.2L356.7,228.7L353.6,228.9L351.7,227.1L350.4,227.4L349.5,229.5L348.3,231.9L346.6,233.1L344.6,233.9L342.8,236.0L341.6,238.6L341.5,240.9L342.0,241.4L340.5,244.3L338.5,245.7L336.5,247.4L333.7,248.5L343.9,248.5L343.9,245.9L347.7,243.8L351.0,242.7L353.2,240.9L355.2,240.1L356.6,238.1L360.3,237.0L360.6,236.0L359.5,233.4L359.5,230.8Z" fill="#fed976"><title>Morocco</title></path>
<path d="M333.7,248.5L332.3,251.1L330.7,252.4L329.7,255.5L327.6,258.1L327.2,258.9L325.0,262.8L324.6,266.4L325.0,265.0L333.8,265.0L333.9,260.7L336.2,259.5L336.3,252.9L343.8,252.9L343.9,248.5Z" fill="url(#hatch)"><title>Western Sahara</title></path>
<path d="M324.6,266.4L326.4,269.8L326.8,273.5L325.6,278.7L327.9,277.5L330.6,277.4L332.8,279.2L335.1,282.1L336.9,280.0L338.8,280.5L341.7,280.2L350.6,280.2L351.0,278.1L350.4,277.6L348.4,255.5L352.4,255.5L343.8,249.5L343.8,252.9L336.3,252.9L336.2,259.5L333.9,260.7L333.8,265.0L325.0,265.0Z" fill="#feb24c"><title>Mauritania</title></path>
<path d="M358.4,229.2L361.0,227.6L363.4,226.9L366.0,225.6L369.7,224.8L374.0,224.8L378.1,224.3L381.8,224.5L380.9,225.8L381.2,228.9L379.6,231.8L379.6,232.6L381.4,236.0L383.1,237.0L384.2,241.7L385.2,246.9L385.2,251.6L384.3,252.4L385.7,256.0L389.3,257.6L390.2,259.4L380.2,266.2L376.4,269.8L372.8,270.7L370.7,271.1L370.2,269.0L367.3,267.7L365.9,265.7L352.4,255.5L343.8,249.5L343.9,248.5L343.9,245.9L347.7,243.8L351.0,242.7L353.2,240.9L355.2,240.1L356.6,238.1L360.3,237.0L360.6,236.0L359.5,233.4L359.5,230.8Z" fill="#ffeda0"><title>Algeria</title></path>
<path d="M381.8,224.5L384.3,223.5L385.4,223.7L387.1,224.1L386.1,225.8L386.9,228.2L387.3,228.9L385.2,231.3L386.4,232.8L387.5,233.9L388.5,234.3L388.5,236.2L385.9,237.8L385.7,240.1L384.2,241.7L383.1,237.0L381.4,236.0L379.6,232.6L379.6,231.8L381.2,228.9L380.9,225.8Z" fill="#fed976"><title>Tunisia</title></path>
<path d="M388.5,234.3L391.1,235.2L392.2,234.9L396.6,236.2L397.1,238.3L400.7,239.6L405.3,241.7L407.4,240.1L407.4,237.0L410.6,234.9L413.9,235.7L416.0,237.3L418.6,238.2L418.2,241.2L418.7,244.6L419.7,263.3L419.9,268.5L417.6,268.5L417.7,269.8L399.3,259.5L397.0,260.7L395.2,261.7L393.6,260.2L390.2,259.4L389.3,257.6L385.7,256.0L384.3,252.4L385.2,251.6L385.2,246.9L384.2,241.7L385.7,240.1L385.9,237.8L388.5,236.2Z" fill="#feb24c"><title>Libya</title></path>
<path d="M418.6,238.2L423.4,238.8L427.3,240.3L429.4,239.1L431.5,238.3L433.8,238.8L434.5,239.1L437.8,239.6L438.8,239.1L440.7,243.8L439.9,247.7L439.5,248.3L438.0,246.9L435.5,242.6L435.6,243.8L436.9,246.9L438.2,248.7L439.2,250.8L440.8,254.2L443.1,258.1L443.2,259.4L446.6,263.3L419.7,263.3L418.7,244.6L418.2,241.2Z" fill="#fed976"><title>Egypt</title></path>
<path d="M446.6,263.3L447.4,265.9L447.6,269.6L448.4,271.9L450.8,273.7L449.7,275.0L447.5,276.3L447.4,278.4L446.5,281.0L446.7,283.4L445.9,287.5L443.7,289.9L443.4,292.2L442.0,293.0L441.6,295.9L441.1,295.9L441.1,294.0L439.4,292.7L439.2,290.9L439.3,288.8L438.2,288.8L436.8,289.4L437.3,290.1L437.6,291.7L434.9,295.1L434.0,295.2L432.1,293.8L431.0,295.1L429.9,295.3L427.6,296.4L427.3,295.6L424.1,295.9L420.9,293.8L420.2,295.1L418.2,297.9L417.2,297.4L417.2,294.3L415.8,292.2L414.9,292.0L413.2,287.8L414.3,287.5L413.8,284.7L414.7,283.9L415.5,279.7L418.0,279.7L417.7,269.8L417.6,268.5L419.9,268.5L419.7,263.3Z" fill="#feb24c"><title>Sudan</title></path>
<path d="M418.2,297.9L420.2,295.1L420.9,293.8L424.1,295.9L427.3,295.6L427.6,296.4L429.9,295.3L431.0,295.1L432.1,293.8L434.0,295.2L434.9,295.1L437.6,291.7L437.3,290.1L436.8,289.4L438.2,288.8L439.3,288.8L439.2,290.9L439.4,292.7L441.1,294.0L441.1,295.9L441.6,298.2L440.5,298.7L439.1,300.0L440.8,300.5L443.1,303.2L444.6,306.5L445.7,306.8L445.7,308.7L441.6,309.9L440.5,311.4L437.5,312.3L435.2,311.3L434.4,312.3L431.4,308.7L428.7,309.6L426.5,307.6L424.3,305.0L421.5,301.9L419.6,299.5Z" fill="#e31a1c"><title>South Sudan</title></path>
<path d="M446.7,283.4L449.2,283.6L451.2,282.8L452.6,282.6L454.7,282.8L456.8,283.9L458.7,285.7L460.4,288.1L459.0,290.7L459.0,292.0L461.7,292.0L461.3,293.0L462.0,294.0L463.4,296.1L464.4,297.2L471.4,299.8L473.7,299.8L466.9,307.6L464.6,307.7L462.3,308.7L460.1,310.3L459.8,310.7L457.3,309.8L455.0,311.1L454.3,312.5L451.1,312.0L448.5,309.5L446.2,309.2L445.7,308.7L445.7,306.8L444.6,306.5L443.1,303.2L440.8,300.5L439.1,300.0L440.5,298.7L441.6,298.2L441.1,295.9L441.6,295.9L442.0,293.0L443.4,292.2L443.7,289.9L445.9,287.5Z" fill="#fd8d3c"><title>Ethiopia</title></path>
<path d="M450.8,273.7L452.6,278.2L453.4,280.2L454.8,281.5L457.4,283.1L460.1,286.2L462.0,287.5L460.4,288.1L458.7,285.7L456.8,283.9L454.7,282.8L452.6,282.6L451.2,282.8L449.2,283.6L446.7,283.4L446.5,281.0L447.4,278.4L447.5,276.3L449.7,275.0Z" fill="#fd8d3c"><title>Eritrea</title></path>
<path d="M462.0,287.5L462.7,289.4L462.4,290.7L462.4,290.8L461.7,292.0L459.0,292.0L459.0,290.7L460.4,288.1Z" fill="#fd8d3c"><title>Djibouti</title></path>
<path d="M462.4,290.8L464.9,293.4L466.6,293.4L470.0,292.5L472.2,291.6L475.7,291.2L478.1,290.5L480.8,289.7L480.5,292.0L481.3,293.4L480.2,294.6L480.0,296.1L478.3,299.8L476.5,302.9L474.3,307.6L471.6,312.3L468.0,317.1L464.8,319.7L461.5,320.7L459.1,323.0L457.8,321.3L457.8,314.7L459.8,310.7L460.1,310.3L462.3,308.7L464.6,307.7L466.9,307.6L473.7,299.8L471.4,299.8L464.4,297.2L463.4,296.1L462.0,294.0L461.3,293.0L461.7,292.0Z" fill="#fd8d3c"><title>Somalia</title></path>
<path d="M459.1,323.0L456.0,326.1L455.7,328.2L454.6,330.8L453.6,332.6L450.2,328.9L449.9,327.2L441.7,321.5L441.6,320.6L441.9,320.5L443.1,319.4L444.0,317.6L442.6,314.0L441.6,309.9L445.7,308.7L446.2,309.2L448.5,309.5L451.1,312.0L454.3,312.5L455.0,311.1L457.3,309.8L459.8,310.7L457.8,314.7L457.8,321.3Z" fill="#feb24c"><title>Kenya</title></path>
<path d="M441.7,321.5L433.6,321.6L432.2,322.4L431.5,322.4L431.5,321.0L431.8,320.6L432.3,320.2L432.9,319.3L435.4,316.8L434.2,316.0L434.4,312.3L435.2,311.3L437.5,312.3L440.5,311.4L441.6,309.9L442.6,314.0L444.0,317.6L443.1,319.4L441.9,320.5L441.6,320.6Z" fill="#fd8d3c"><title>Uganda</title></path>
<path d="M453.6,332.6L452.6,336.2L453.7,338.4L454.1,341.4L453.6,344.0L456.1,347.9L451.5,350.3L449.2,351.1L445.8,350.8L443.4,350.7L442.7,347.9L441.4,345.3L438.8,345.1L434.5,343.0L434.0,342.0L431.2,336.2L431.0,332.0L432.4,331.6L433.6,328.9L434.2,328.2L434.4,325.0L433.6,321.6L441.7,321.5L449.9,327.2L450.2,328.9Z" fill="#feb24c"><title>Tanzania</title></path>
<path d="M431.5,322.4L432.2,322.4L433.6,321.6L434.4,325.0L433.6,325.2L432.2,326.3L430.1,326.3L430.6,323.6Z" fill="#fd8d3c"><title>Rwanda</title></path>
<path d="M430.1,326.3L432.2,326.3L433.6,325.2L434.4,325.0L434.2,328.2L433.6,328.9L432.4,331.6L431.0,332.0L430.6,328.2Z" fill="#fc4e2a"><title>Burundi</title></path>
<path d="M391.3,335.8L392.0,335.4L393.4,332.6L394.1,333.4L396.4,333.4L396.9,333.4L398.5,331.6L400.1,328.9L400.6,324.5L402.4,321.7L404.1,320.8L404.5,320.4L405.0,316.7L406.1,312.3L406.1,309.5L407.2,307.7L410.5,309.2L413.2,309.6L415.1,310.3L416.0,308.1L419.4,307.3L421.5,307.6L424.3,307.4L426.5,307.6L428.7,309.6L431.4,308.7L434.4,312.3L434.2,316.0L435.4,316.8L432.9,319.3L432.3,320.2L431.8,320.6L431.5,321.0L431.5,322.4L430.6,323.6L430.1,326.3L430.6,328.2L431.0,332.0L431.2,336.2L434.0,342.0L429.7,342.7L428.5,344.6L429.2,345.6L429.0,348.5L428.3,351.3L429.8,352.9L431.5,352.2L431.4,355.6L429.6,355.5L428.3,353.2L426.3,352.4L424.9,351.7L422.8,351.6L421.5,350.8L421.3,349.8L419.2,350.3L419.0,349.4L418.3,349.0L416.0,349.5L414.2,349.8L414.4,347.9L413.3,345.3L413.6,342.2L413.4,339.6L410.4,339.6L410.4,338.6L408.1,338.8L407.8,341.4L403.7,341.7L402.1,339.3L401.4,336.0L393.2,335.8L391.5,336.5Z" fill="#fc4e2a"><title>Democratic Republic of Congo</title></path>
<path d="M391.5,336.5L393.2,335.8L401.4,336.0L402.1,339.3L403.7,341.7L407.8,341.4L408.1,338.8L410.4,338.6L410.4,339.6L413.4,339.6L413.6,342.2L413.3,345.3L414.4,347.9L414.2,349.8L416.0,349.5L418.3,349.0L418.2,354.5L413.6,354.5L413.4,362.8L416.5,366.4L411.0,367.3L408.7,367.2L405.1,365.9L395.5,365.9L392.8,364.9L390.0,365.5L390.1,362.3L391.1,359.7L391.8,355.5L393.9,353.2L394.9,349.2L394.7,348.2L393.1,344.0L394.0,342.2L392.7,338.8ZM390.9,333.6L391.3,335.6L392.0,335.4L393.4,332.6L392.3,331.9Z" fill="#fd8d3c"><title>Angola</title></path>
<path d="M418.3,349.0L419.0,349.4L419.2,350.3L421.3,349.8L421.5,350.8L422.8,351.6L424.9,351.7L426.3,352.4L428.3,353.2L429.6,355.5L431.4,355.6L431.5,352.2L429.8,352.9L428.3,351.3L429.0,348.5L429.2,345.6L428.5,344.6L429.7,342.7L434.0,342.0L434.5,343.0L438.8,345.1L439.7,348.7L438.8,353.2L438.1,356.0L439.2,357.1L432.2,359.1L432.6,361.2L429.2,362.3L424.6,367.3L420.8,367.0L416.5,366.4L413.4,362.8L413.6,354.5L418.2,354.5Z" fill="#fc4e2a"><title>Zambia</title></path>
<path d="M438.8,345.1L441.4,345.3L442.7,347.9L443.4,350.7L442.1,352.4L442.4,355.8L445.1,358.6L445.1,362.3L443.6,365.1L441.7,362.8L441.9,358.4L439.2,357.1L438.1,356.0L438.8,353.2L439.7,348.7Z" fill="#fd8d3c"><title>Malawi</title></path>
<path d="M456.1,347.9L456.0,353.2L456.5,358.1L455.9,361.0L453.2,364.1L448.6,366.7L446.8,369.6L443.3,372.2L441.8,374.0L443.2,377.9L443.1,382.6L441.9,384.7L438.4,386.2L436.5,388.0L436.8,390.5L435.0,390.5L434.8,388.0L435.2,384.1L433.9,378.9L436.5,376.1L438.0,372.2L437.8,367.5L438.4,364.1L436.2,363.3L434.4,362.3L432.6,361.2L432.2,359.1L439.2,357.1L441.9,358.4L441.7,362.8L443.6,365.1L445.1,362.3L445.1,358.6L442.4,355.8L442.1,352.4L443.4,350.7L445.8,350.8L449.2,351.1L451.5,350.3Z" fill="#fd8d3c"><title>Mozambique</title></path>
<path d="M420.8,367.0L424.6,367.3L429.2,362.3L432.6,361.2L434.4,362.3L436.2,363.3L438.4,364.1L437.8,367.5L438.0,372.2L436.5,376.1L433.9,378.9L429.6,378.4L426.5,376.6L425.9,374.0L422.6,371.9L420.7,368.8Z" fill="#fd8d3c"><title>Zimbabwe</title></path>
<path d="M420.8,367.0L420.7,368.8L422.6,371.9L425.9,374.0L426.5,376.6L429.6,378.4L427.1,379.7L424.0,382.1L421.4,384.9L420.4,387.5L418.6,387.0L414.8,386.5L412.5,389.1L409.7,390.5L408.1,385.2L408.4,377.9L410.6,377.9L411.0,368.3L416.4,367.5L418.3,367.5Z" fill="#feb24c"><title>Botswana</title></path>
<path d="M390.0,365.5L392.8,364.9L395.5,365.9L405.1,365.9L408.7,367.2L411.0,367.3L416.5,366.4L420.8,367.0L418.3,367.5L416.4,367.5L411.0,368.3L410.6,377.9L408.4,377.9L408.1,385.2L407.7,394.6L405.4,396.0L401.9,395.3L399.9,395.1L397.2,390.9L395.8,384.4L395.9,379.7L393.5,374.8L390.9,369.3Z" fill="#feb24c"><title>Namibia</title></path>
<path d="M399.9,395.1L401.9,395.3L405.4,396.0L407.7,394.6L408.1,385.2L409.7,390.5L412.5,389.1L414.8,386.5L418.6,387.0L420.4,387.5L421.4,384.9L424.0,382.1L427.1,379.7L429.6,378.4L433.9,378.9L435.2,384.1L434.8,388.0L433.4,387.7L432.1,389.3L432.9,391.4L435.0,390.5L436.8,390.5L435.5,394.8L432.6,397.7L429.9,401.8L426.0,405.8L422.3,408.1L419.3,409.3L414.5,409.4L411.2,409.7L406.8,411.2L404.2,409.9L403.4,409.7L403.4,405.8L403.3,403.1L401.5,399.5Z" fill="#feb24c"><title>South Africa</title></path>
<path d="M423.1,397.7L425.5,395.6L427.1,395.1L428.5,397.2L427.7,398.7L425.6,400.3L423.9,399.5Z" fill="#e31a1c"><title>Lesotho</title></path>
<path d="M433.4,387.7L434.8,388.0L435.0,390.5L432.9,391.4L432.1,389.3Z" fill="#fc4e2a"><title>Eswatini</title></path>
<path d="M476.3,351.8L477.5,355.2L478.5,360.7L476.9,361.7L475.9,365.6L473.7,371.4L471.3,379.2L469.3,385.2L464.6,387.1L462.0,385.7L460.9,379.2L461.6,376.1L463.9,372.2L463.4,366.2L464.7,362.8L468.9,361.5L472.0,358.9L473.1,356.0L475.0,355.0Z" fill="#fd8d3c"><title>Madagascar</title></path>
<path d="M325.6,278.7L324.1,281.8L323.2,282.3L324.7,284.7L324.9,285.2L327.7,285.2L328.9,284.7L331.6,285.7L328.9,285.7L327.0,286.4L324.8,286.5L324.9,288.4L327.7,287.5L331.8,287.7L335.0,288.6L337.1,288.3L337.1,287.0L335.7,284.9L335.3,282.2L335.1,282.1L332.8,279.2L330.6,277.4L327.9,277.5Z" fill="#feb24c"><title>Senegal</title></path>
<path d="M324.7,285.2L327.7,285.2L328.9,284.7L331.6,285.7L328.9,285.7L327.0,286.4L324.7,286.5Z" fill="#feb24c"><title>Gambia</title></path>
<path d="M324.9,288.4L327.7,287.5L331.8,287.7L331.8,290.1L329.5,290.7L328.8,292.1L327.6,291.4L326.0,289.6Z" fill="#fc4e2a"><title>Guinea-Bissau</title></path>
<path d="M328.8,292.1L329.5,290.7L331.8,290.1L331.8,287.7L335.0,288.6L337.1,288.3L338.7,289.6L341.9,288.3L343.0,290.7L344.1,292.0L344.8,294.0L345.0,297.2L345.5,298.7L344.1,300.8L342.5,301.6L341.3,301.3L341.6,298.7L339.5,298.5L338.6,296.4L337.2,294.6L334.5,294.8L332.6,297.0L331.5,295.1L329.7,293.3Z" fill="#fd8d3c"><title>Guinea</title></path>
<path d="M332.6,297.0L334.5,294.8L337.2,294.6L338.6,296.4L339.5,298.5L338.8,299.8L336.7,302.6L334.4,301.3L332.8,298.7Z" fill="#fc4e2a"><title>Sierra Leone</title></path>
<path d="M336.7,302.6L338.8,299.8L339.5,298.5L341.6,298.7L341.3,301.3L342.5,301.6L344.1,300.8L343.6,303.7L345.9,305.5L345.8,309.5L342.5,307.6L338.3,304.2Z" fill="#fc4e2a"><title>Liberia</title></path>
<path d="M345.8,309.5L345.9,305.5L343.6,303.7L344.1,300.8L345.5,298.7L345.0,297.2L344.8,294.0L347.1,294.0L349.0,293.0L350.6,293.5L352.4,295.3L355.8,294.8L357.0,295.9L357.0,299.8L355.8,302.9L356.7,307.3L354.0,306.9L349.4,308.1Z" fill="#fd8d3c"><title>Cote d'Ivoire</title></path>
<path d="M335.3,282.2L335.7,284.9L337.1,287.0L337.1,288.3L338.7,289.6L341.9,288.3L343.0,290.7L344.1,292.0L344.8,294.0L347.1,294.0L349.0,293.0L350.6,293.5L350.6,290.9L353.1,288.6L353.4,286.2L355.6,284.9L358.6,283.6L361.6,281.4L363.7,281.7L366.2,280.8L371.2,280.5L372.8,277.4L372.8,270.7L370.7,271.1L370.2,269.0L367.3,267.7L365.9,265.7L352.4,255.5L348.4,255.5L350.4,277.6L351.0,278.1L350.6,280.2L341.7,280.2L338.8,280.5L336.9,280.0Z" fill="#fd8d3c"><title>Mali</title></path>
<path d="M350.6,293.5L352.4,295.3L355.8,294.8L357.0,295.9L356.8,292.0L361.6,292.0L363.2,291.7L365.3,292.0L366.4,290.9L368.7,289.6L368.0,287.5L365.5,285.7L363.7,281.7L361.6,281.4L358.6,283.6L355.6,284.9L353.4,286.2L353.1,288.6L350.6,290.9Z" fill="#feb24c"><title>Burkina Faso</title></path>
<path d="M356.7,307.3L355.8,302.9L357.0,299.8L357.0,295.9L356.8,292.0L361.6,292.0L363.2,291.7L364.1,293.8L364.4,298.5L364.6,302.4L366.0,304.7L363.2,306.0L358.6,308.3Z" fill="#feb24c"><title>Ghana</title></path>
<path d="M366.0,304.7L364.6,302.4L364.4,298.5L364.1,293.8L363.2,291.7L365.3,292.0L365.0,294.6L366.9,297.2L367.0,304.5Z" fill="#fd8d3c"><title>Togo</title></path>
<path d="M367.0,304.5L366.9,297.2L365.0,294.6L365.3,292.0L366.4,290.9L368.7,289.6L369.6,288.3L371.5,290.1L371.9,293.3L370.3,297.2L369.5,301.1L369.4,304.1Z" fill="#fd8d3c"><title>Benin</title></path>
<path d="M363.7,281.7L365.5,285.7L368.0,287.5L368.7,289.6L369.6,288.3L371.5,290.1L372.6,286.2L375.8,284.4L378.8,286.5L381.1,286.0L383.8,287.3L387.7,285.8L391.8,286.5L394.3,284.9L394.1,282.8L398.5,276.6L398.6,268.8L397.0,260.7L395.2,261.7L393.6,260.2L390.2,259.4L380.2,266.2L376.4,269.8L372.8,270.7L372.8,277.4L371.2,280.5L366.2,280.8Z" fill="#fc4e2a"><title>Niger</title></path>
<path d="M369.4,304.1L369.5,301.1L370.3,297.2L371.9,293.3L371.5,290.1L372.6,286.2L375.8,284.4L378.8,286.5L381.1,286.0L383.8,287.3L387.7,285.8L391.8,286.5L394.3,284.9L395.5,286.5L395.8,288.3L396.7,290.7L394.9,292.0L392.6,297.7L391.3,298.7L390.4,302.1L388.8,303.7L386.7,302.6L384.6,303.9L383.0,308.1L379.6,309.3L377.0,309.6L374.7,306.0L373.3,304.2Z" fill="#fd8d3c"><title>Nigeria</title></path>
<path d="M394.3,284.9L394.1,282.8L398.5,276.6L398.6,268.8L397.0,260.7L399.3,259.5L417.7,269.8L418.0,279.7L415.5,279.7L414.7,283.9L413.8,284.7L414.3,287.5L413.2,287.8L414.9,292.0L415.8,292.2L413.7,293.8L411.5,295.3L409.4,296.9L406.9,297.2L406.7,297.7L404.6,299.8L401.6,300.7L398.9,301.1L398.2,298.5L395.4,295.3L397.9,294.6L397.9,292.5L396.7,290.7L395.8,288.3L395.5,286.5Z" fill="#e31a1c"><title>Chad</title></path>
<path d="M383.0,308.1L384.6,303.9L386.7,302.6L388.8,303.7L390.4,302.1L391.3,298.7L392.6,297.7L394.9,292.0L396.7,290.7L397.9,292.5L397.9,294.6L395.4,295.3L398.2,298.5L398.9,301.1L396.8,304.5L396.6,306.8L397.1,308.7L398.0,310.9L400.3,314.7L400.6,318.1L396.7,316.7L393.9,316.7L389.3,316.7L385.8,316.2L385.8,313.0L385.1,310.8L383.7,309.0Z" fill="#fd8d3c"><title>Cameroon</title></path>
<path d="M398.9,301.1L401.6,300.7L404.6,299.8L406.7,297.7L406.9,297.2L409.4,296.9L411.5,295.3L413.7,293.8L415.8,292.2L417.2,294.3L417.2,297.4L418.2,297.9L419.6,299.5L421.5,301.9L424.3,305.0L426.5,307.6L424.3,307.4L421.5,307.6L419.4,307.3L416.0,308.1L415.1,310.3L413.2,309.6L410.5,309.2L407.2,307.7L406.1,309.5L406.1,312.3L403.6,312.0L401.5,312.3L400.3,314.7L398.0,310.9L397.1,308.7L396.6,306.8L396.8,304.5Z" fill="#bd0026"><title>Central African Republic</title></path>
<path d="M385.8,316.2L389.3,316.7L389.3,319.7L385.8,319.7L384.9,319.5Z" fill="#fc4e2a"><title>Equatorial Guinea</title></path>
<path d="M384.9,319.5L385.8,319.7L389.3,319.7L389.3,316.7L393.9,316.7L393.7,319.1L396.0,318.8L396.7,320.8L395.3,322.1L396.4,323.6L396.0,325.2L392.7,323.6L390.9,325.2L390.0,326.5L390.6,328.9L388.8,330.4L385.4,325.2L383.5,321.1L384.7,320.4Z" fill="#feb24c"><title>Gabon</title></path>
<path d="M388.8,330.4L390.6,328.9L390.0,326.5L390.9,325.2L392.7,323.6L396.0,325.2L396.4,323.6L395.3,322.1L396.7,320.8L396.0,318.8L393.7,319.1L393.9,316.7L396.7,316.7L400.6,318.1L400.3,314.7L401.5,312.3L403.6,312.0L406.1,312.3L405.0,316.7L404.5,320.4L404.1,320.8L402.4,321.7L400.6,324.5L400.1,328.9L398.5,331.6L396.9,333.4L396.4,333.4L394.1,333.4L393.4,332.6L392.3,331.9L390.9,333.6Z" fill="#fd8d3c"><title>Congo</title></path>
<path d="M462.3,350.3L463.0,350.8L462.5,351.6ZM464.8,352.1L465.2,352.6L464.5,352.9Z" fill="#fd8d3c"><title>Comoros</title></path>
<path d="M493.3,372.7L494.2,373.2L493.5,374.0Z" fill="#fed976"><title>Mauritius</title></path>
<path d="M309.1,280.8L309.7,281.5L308.8,281.8ZM307.4,281.5L307.9,282.1L307.2,282.1ZM305.8,276.1L306.5,276.6L305.5,276.6Z" fill="#fed976"><title>Cape Verde</title></path>
<path d="M378.2,320.4L378.9,320.5L378.4,320.6Z" fill="#feb24c"><title>Sao Tome</title></path>
<path d="M414.7,144.4L416.3,143.7L418.3,144.7L419.2,145.0L423.6,145.4L427.4,147.0L432.2,148.5L433.9,150.5L432.5,151.9L429.1,152.2L423.6,151.2L420.1,151.0L423.6,152.6L423.7,154.6L424.6,156.0L428.8,157.2L430.3,156.0L427.8,154.4L433.1,155.6L434.6,155.7L433.0,153.5L435.8,151.5L439.5,152.1L439.5,151.2L438.2,149.6L438.3,148.1L436.2,146.4L440.8,147.0L442.3,148.3L442.2,150.3L444.7,148.8L446.2,148.2L449.1,147.1L452.3,145.9L454.6,147.2L456.0,146.8L459.9,146.8L462.3,145.9L463.9,144.1L464.6,143.9L470.3,145.1L472.2,145.4L475.9,146.1L479.1,147.2L475.2,144.3L473.1,142.0L472.9,140.4L474.1,139.2L473.7,137.5L474.9,136.8L478.4,137.3L481.0,139.2L480.9,140.9L483.5,143.5L485.1,145.6L487.6,147.0L487.5,148.5L486.6,151.2L487.9,151.9L490.2,150.1L489.7,147.4L490.8,145.6L485.2,142.4L483.5,140.7L484.3,139.0L482.8,137.5L484.4,137.9L487.6,139.0L488.9,138.5L491.4,138.5L494.0,139.2L495.1,141.3L499.7,143.0L499.5,141.3L496.2,139.6L492.3,137.1L490.9,135.9L496.0,135.4L500.0,135.0L498.6,133.1L501.8,131.7L506.9,130.7L512.1,129.9L515.1,129.9L518.6,127.6L522.9,128.3L526.0,129.5L532.8,129.5L538.0,131.2L538.8,132.3L535.3,134.6L532.1,136.6L536.8,135.2L540.6,135.5L543.5,136.2L551.5,135.8L554.6,137.1L558.3,135.6L559.2,135.4L564.6,135.9L570.0,137.5L571.1,139.2L576.2,141.3L578.5,141.8L579.8,140.2L583.6,140.0L587.7,140.7L591.0,140.2L588.3,138.1L588.4,137.3L590.9,137.7L598.3,138.3L604.5,138.7L607.2,140.0L613.6,141.6L618.7,141.2L624.2,141.6L628.6,143.5L631.5,144.3L636.2,144.1L642.9,144.3L648.4,146.1L650.0,146.1L646.5,143.4L650.7,143.8L656.2,144.1L661.6,144.8L665.4,145.7L678.9,154.6L678.1,155.3L675.5,155.3L679.4,156.5L685.5,160.2L686.3,160.9L681.7,160.4L679.3,162.1L677.6,164.2L677.5,166.5L671.4,165.1L669.8,166.8L667.4,166.7L666.5,168.2L669.3,171.1L668.0,171.6L674.6,175.5L672.8,176.0L675.1,178.5L676.2,178.9L674.1,180.9L675.9,182.9L674.1,183.6L676.0,186.1L675.1,188.6L671.2,185.9L665.6,180.9L660.6,176.0L659.3,172.8L659.0,171.1L660.8,169.0L660.8,165.6L662.1,164.0L659.5,160.7L658.7,162.5L656.9,164.7L653.4,162.3L648.2,162.5L648.4,165.9L651.1,168.2L646.0,168.7L643.4,167.5L638.9,167.3L634.1,168.0L628.5,168.0L627.9,171.6L626.5,174.5L627.3,178.5L624.6,179.2L630.0,181.2L632.1,180.4L634.4,180.4L639.6,182.9L641.5,185.4L643.1,188.9L646.4,193.4L646.9,198.0L646.8,200.5L646.0,203.6L645.2,206.2L643.6,209.0L641.8,209.4L639.2,208.2L638.2,209.0L637.9,210.5L637.5,210.3L637.0,207.5L635.0,203.9L638.4,203.4L637.9,199.8L637.4,196.7L636.7,194.8L633.1,195.7L629.7,196.7L626.8,193.7L619.2,191.4L618.1,190.1L610.8,184.4L609.1,183.3L604.3,182.0L599.7,182.7L599.0,184.4L601.6,186.0L601.5,190.1L600.0,192.2L597.2,191.3L594.6,190.9L591.7,190.1L588.5,192.4L584.8,192.9L580.5,192.4L577.3,190.4L573.0,189.9L567.3,189.4L566.2,187.6L558.6,185.9L558.7,188.4L559.5,191.2L553.5,190.9L546.6,189.1L543.0,191.2L540.1,192.9L539.2,193.2L537.3,191.4L534.4,191.9L528.3,188.4L522.6,188.9L515.4,182.7L511.7,180.7L507.5,181.9L505.8,180.9L501.3,180.4L499.5,177.7L495.8,177.6L489.5,179.9L481.8,181.0L483.9,183.4L481.7,185.9L485.3,187.6L482.7,188.9L479.5,188.1L474.3,189.4L471.6,188.4L466.7,186.6L463.7,186.6L460.3,189.4L457.8,190.1L457.4,194.9L459.0,196.5L461.3,196.7L463.7,200.0L463.0,201.3L461.5,202.1L460.5,204.1L460.2,205.1L462.6,208.7L465.6,211.7L464.3,213.4L461.0,211.6L457.6,209.5L455.1,209.8L452.1,208.2L446.7,207.7L444.4,206.2L441.6,204.5L439.3,203.4L439.0,202.7L441.1,202.8L440.5,201.8L441.7,200.8L441.0,199.3L443.3,198.4L441.3,198.2L444.3,196.3L443.4,193.9L443.8,191.9L439.4,191.2L437.9,189.9L433.8,189.4L431.2,186.5L429.7,185.0L425.9,185.6L424.6,182.9L427.0,182.3L424.9,180.7L422.7,178.9L422.5,177.0L421.0,176.4L416.9,175.6L416.0,173.9L414.8,172.2L414.7,170.4L414.3,169.2L415.2,167.6L416.7,166.6L418.9,166.6L416.6,165.9L415.5,165.1L414.2,165.0L416.4,163.2L417.7,162.0L419.7,159.5L416.5,157.6L417.0,155.8L415.3,154.9L415.1,153.0L415.6,153.0L413.0,150.3L414.3,148.5L411.3,146.8L411.8,145.5L413.3,144.8ZM61.0,145.7L62.5,147.4L64.1,149.2L68.1,150.2L69.1,152.1L65.9,153.3L62.1,153.6L59.3,156.0L57.1,156.4L54.8,155.1L51.8,153.5L48.4,154.6L47.5,154.6ZM401.1,179.8L401.6,178.7L403.4,177.7L404.1,177.8L407.2,178.7L407.4,180.1ZM447.0,140.0L451.2,142.0L454.6,142.2L457.9,142.0L455.1,140.0L452.3,137.9L452.3,136.4L448.3,136.4L447.6,138.1ZM449.0,136.2L452.7,136.2L455.0,134.4L457.6,132.3L462.6,130.7L467.7,129.7L465.7,128.9L460.6,130.1L454.9,130.7L452.0,132.1L449.8,133.6ZM501.2,124.7L505.2,123.3L510.9,124.4L517.3,126.4L511.4,127.0L506.6,125.5ZM495.1,123.3L496.8,121.3L501.4,122.1L498.2,123.5ZM507.6,124.0L514.1,124.6L515.1,126.4L510.0,125.3ZM576.9,132.9L577.2,130.7L585.3,131.9L592.2,132.3L590.7,133.3L583.3,133.6ZM585.4,136.0L590.6,135.8L590.2,136.6ZM590.3,132.1L596.7,132.7L595.4,133.3ZM656.4,141.5L658.2,141.3L656.2,140.1L654.7,140.2ZM68.2,141.3L73.1,140.9L72.7,140.1L70.2,140.1ZM639.6,179.9L644.4,183.9L647.0,187.1L653.1,192.7L655.3,193.7L651.3,192.9L654.5,197.7L657.9,200.5L655.4,199.3L655.4,201.3L652.5,197.2L649.9,193.4L645.2,188.4L641.9,184.6L640.1,182.2ZM430.4,123.0L433.9,121.8L436.3,122.3L433.4,123.2ZM438.8,122.8L443.9,122.0L447.3,122.6L442.7,123.2ZM448.1,122.0L451.8,121.3L455.2,122.0L451.4,122.5ZM444.3,145.0L445.8,144.6L447.1,145.6L445.6,146.1ZM460.7,142.8L463.4,143.2L462.3,144.1ZM668.6,169.7L669.0,168.5L668.3,169.0Z" fill="#fed976"><title>Russia</title></path>
<path d="M418.4,214.5L418.8,212.1L422.1,211.3L424.7,213.3L422.5,213.9L421.4,214.0L418.9,216.4ZM418.8,216.5L420.5,215.4L424.7,215.2L426.6,214.5L424.7,213.4L429.4,213.5L433.3,211.3L437.1,211.2L439.9,213.1L444.5,214.0L448.3,213.9L450.9,212.6L452.9,212.6L455.1,213.6L456.0,216.2L458.6,217.3L458.4,220.9L458.2,221.9L459.8,223.9L454.5,224.0L451.6,224.0L447.0,225.0L443.2,225.2L442.6,226.3L441.6,227.3L441.0,227.1L441.4,225.3L440.1,225.3L437.9,224.9L436.2,226.5L434.3,226.9L430.1,224.7L429.3,224.7L429.0,226.2L426.6,226.2L424.1,225.0L422.3,224.3L421.7,221.9L419.6,220.9L420.9,220.5L420.2,218.3L418.9,217.9Z" fill="#ffeda0"><title>Turkey</title></path>
<path d="M446.7,207.7L450.8,211.3L450.9,212.6L452.9,212.6L455.1,213.6L458.3,213.4L458.3,213.1L461.6,213.6L460.7,212.3L461.0,211.6L457.6,209.5L455.1,209.8L452.1,208.2Z" fill="#fed976"><title>Georgia</title></path>
<path d="M455.1,213.6L458.3,213.4L459.8,214.4L460.7,216.0L462.4,217.8L462.7,219.3L461.8,219.5L460.9,218.0L459.1,217.1L458.6,217.3L456.0,216.2Z" fill="#ffeda0"><title>Armenia</title></path>
<path d="M461.0,211.6L464.3,213.4L465.6,211.7L466.9,213.1L468.4,214.9L470.2,215.4L468.4,216.0L468.4,218.3L468.0,220.5L465.9,219.6L466.3,218.0L465.0,217.3L462.7,219.3L462.4,217.8L460.7,216.0L459.8,214.4L458.3,213.4L458.3,213.1L461.6,213.6L460.7,212.3ZM458.6,217.3L459.1,217.1L460.9,218.0L461.8,219.5L460.3,219.1L458.7,217.4Z" fill="#fed976"><title>Azerbaijan</title></path>
<path d="M441.0,227.1L441.4,230.4L442.6,230.8L443.1,231.5L442.0,233.1L441.7,233.6L441.6,233.9L441.5,235.4L444.1,236.5L448.2,233.8L452.6,231.0L452.6,227.9L454.5,224.0L451.6,224.0L447.0,225.0L443.2,225.2L442.6,226.3L441.6,227.3Z" fill="#fed976"><title>Syria</title></path>
<path d="M441.4,230.4L442.6,230.8L443.1,231.5L442.0,233.1L441.7,233.6L441.1,233.9L440.2,234.4Z" fill="#ffeda0"><title>Lebanon</title></path>
<path d="M440.2,234.4L441.1,233.9L441.6,233.9L441.5,235.4L441.3,236.2L441.5,238.6L441.4,239.6L440.9,243.7L440.7,243.8L438.8,239.1L439.2,238.3L439.7,237.0L439.9,235.2Z" fill="#ffffcc"><title>Israel</title></path>
<path d="M440.4,239.0L441.5,238.6L441.3,236.2L440.5,235.8L440.1,236.7L440.3,237.7L440.7,237.9ZM438.8,239.1L439.2,238.3L439.4,238.6L438.9,239.4Z" fill="#9e0026"><title>Palestine</title></path>
<path d="M441.5,235.4L444.1,236.5L448.2,233.8L449.4,236.9L444.8,238.6L447.3,241.2L446.3,242.5L444.7,242.9L443.4,244.6L440.8,244.2L440.9,243.7L441.4,239.6L441.5,238.6L441.3,236.2Z" fill="#fed976"><title>Jordan</title></path>
<path d="M448.2,233.8L452.6,231.0L452.6,227.9L454.5,224.0L459.8,223.9L461.6,226.9L463.2,227.6L462.4,230.5L462.4,232.1L464.4,234.1L467.4,236.2L468.6,239.9L469.4,241.3L470.8,242.6L469.5,242.5L468.9,242.2L466.6,244.8L462.5,244.6L456.2,239.6L452.1,237.4L449.4,236.9Z" fill="#fed976"><title>Iraq</title></path>
<path d="M469.5,242.5L470.9,246.3L469.4,246.3L468.7,245.1L466.6,244.8L468.9,242.2Z" fill="#ffeda0"><title>Kuwait</title></path>
<path d="M440.8,244.2L443.4,244.6L444.7,242.9L446.3,242.5L447.3,241.2L444.8,238.6L449.4,236.9L452.1,237.4L456.2,239.6L462.5,244.6L466.6,244.8L468.7,245.1L469.4,246.3L470.9,246.3L472.3,248.7L474.1,250.3L475.4,251.2L475.8,253.7L477.4,256.2L477.8,256.5L479.3,257.5L479.3,257.8L481.8,260.8L487.6,261.7L488.9,263.3L487.9,268.5L481.3,271.1L474.8,272.2L472.8,273.2L468.9,275.7L466.6,275.4L463.4,275.3L462.0,274.9L461.5,277.2L460.8,277.9L459.5,275.3L456.8,271.9L453.8,267.7L451.6,264.6L449.9,258.9L446.8,255.5L445.2,252.9L441.7,247.7L440.3,247.4Z" fill="#fed976"><title>Saudi Arabia</title></path>
<path d="M460.8,277.9L461.5,277.2L462.0,274.9L463.4,275.3L466.6,275.4L468.9,275.7L472.8,273.2L474.8,272.2L481.3,271.1L484.3,277.2L482.4,280.0L479.7,281.1L475.3,282.8L473.0,284.1L469.7,285.7L466.3,287.4L462.9,287.7L462.2,286.0L461.3,282.1L460.7,279.7ZM485.6,288.1L488.1,287.9L486.5,288.6Z" fill="#fed976"><title>Yemen</title></path>
<path d="M484.3,277.2L481.3,271.1L487.9,268.5L488.9,263.3L487.8,261.5L488.7,257.6L489.0,255.8L489.8,255.6L491.0,257.6L495.2,259.1L498.2,262.0L497.1,264.9L495.7,267.5L494.5,271.1L491.9,273.5L489.3,274.5L488.1,276.3L486.5,276.3ZM488.9,252.8L489.5,252.0L489.8,253.9L489.0,253.8Z" fill="#ffeda0"><title>Oman</title></path>
<path d="M479.3,257.5L481.5,257.6L484.7,257.7L485.5,256.9L487.3,254.8L488.9,252.8L489.0,253.8L489.8,255.6L489.0,255.8L488.7,257.6L487.8,261.5L487.6,261.7L481.8,260.8L479.3,257.8Z" fill="#ffeda0"><title>United Arab Emirates</title></path>
<path d="M477.4,256.2L477.1,254.2L477.9,252.5L478.8,253.2L479.1,255.5L478.5,256.5L477.8,256.5Z" fill="#ffeda0"><title>Qatar</title></path>
<path d="M458.7,217.4L460.3,219.1L461.8,219.5L462.7,219.3L465.0,217.3L466.3,218.0L465.9,219.6L468.0,220.5L469.0,222.6L471.3,223.2L473.6,224.9L476.6,225.0L479.6,224.5L479.3,223.4L481.2,223.1L482.4,221.4L485.9,221.0L488.8,222.6L490.9,223.0L493.1,225.2L495.3,225.2L496.0,227.9L495.3,231.8L497.0,236.7L499.5,238.8L499.7,240.4L498.1,242.9L500.6,245.1L503.1,247.0L503.5,249.6L504.6,249.8L504.6,251.3L501.7,252.4L501.5,255.0L499.2,254.7L495.6,254.5L491.7,253.4L490.6,250.6L489.0,249.9L486.3,251.3L484.0,251.3L480.6,249.3L477.8,247.9L476.2,245.3L474.2,242.2L471.6,241.4L470.8,242.6L469.4,241.3L468.6,239.9L467.4,236.2L464.4,234.1L462.4,232.1L462.4,230.5L463.2,227.6L461.6,226.9L459.8,223.9L458.2,221.9L458.4,220.9Z" fill="#ffeda0"><title>Iran</title></path>
<path d="M463.7,200.0L461.3,196.7L459.0,196.5L457.4,194.9L457.8,190.1L460.3,189.4L463.7,186.6L466.7,186.6L471.6,188.4L474.3,189.4L479.5,188.1L482.7,188.9L485.3,187.6L481.7,185.9L483.9,183.4L481.8,181.0L489.5,179.9L495.8,177.6L499.5,177.7L501.3,180.4L505.8,180.9L507.5,181.9L511.7,180.7L515.4,182.7L522.6,188.9L528.3,188.4L534.4,191.9L537.3,191.4L539.2,193.2L536.8,194.9L537.8,198.2L532.6,198.0L532.9,202.3L528.8,203.9L531.3,208.7L531.8,210.8L528.7,209.3L522.4,209.0L517.9,208.2L517.6,210.3L512.2,209.8L512.2,210.7L508.9,212.9L507.3,214.4L504.2,213.5L501.8,210.3L501.3,208.7L498.5,206.9L492.6,207.5L489.8,205.1L483.8,202.1L479.0,203.6L481.5,213.1L480.3,213.1L476.6,210.4L473.8,212.0L473.2,209.3L469.0,204.9L467.5,204.6L469.1,202.8L472.6,202.8L471.6,198.8L467.8,198.2Z" fill="#ffeda0"><title>Kazakhstan</title></path>
<path d="M481.5,213.1L479.0,203.6L483.8,202.1L489.8,205.1L492.6,207.5L498.5,206.9L501.3,208.7L501.8,210.3L504.2,213.5L507.3,214.4L508.9,212.9L512.2,210.7L512.9,210.8L512.1,212.9L514.5,212.6L518.0,214.3L516.4,215.3L514.1,215.8L512.8,216.0L512.7,214.0L510.1,214.5L509.4,217.5L507.9,218.3L510.0,221.1L509.4,223.7L506.5,223.4L506.2,221.8L500.7,219.2L495.9,216.5L494.1,213.6L490.1,212.9L489.4,210.8L486.1,209.5L484.9,210.0L483.8,213.0Z" fill="#fed976"><title>Uzbekistan</title></path>
<path d="M473.8,212.0L476.6,210.4L480.3,213.1L481.5,213.1L483.8,213.0L484.9,210.0L486.1,209.5L489.4,210.8L490.1,212.9L494.1,213.6L495.9,216.5L500.7,219.2L506.2,221.8L506.5,223.4L504.6,222.8L503.0,224.0L502.8,226.1L500.2,227.3L498.6,228.7L496.0,227.9L495.3,225.2L493.1,225.2L490.9,223.0L488.8,222.6L485.9,221.0L482.4,221.4L481.2,223.1L479.3,223.4L478.5,219.3L476.3,218.0L476.0,216.5L475.0,215.2L475.1,213.6Z" fill="#fed976"><title>Turkmenistan</title></path>
<path d="M531.8,210.8L528.7,209.3L522.4,209.0L517.9,208.2L517.6,210.3L512.2,209.8L512.2,210.7L512.9,210.8L512.1,212.9L514.5,212.6L518.0,214.3L516.4,215.3L514.1,215.8L512.8,216.0L510.7,216.7L511.0,217.8L513.7,217.5L514.7,218.0L516.9,218.2L520.3,217.9L520.4,216.5L522.0,215.3L524.5,215.4L525.9,213.9L528.6,213.0Z" fill="#ffeda0"><title>Kyrgyzstan</title></path>
<path d="M509.4,223.7L510.0,221.1L507.9,218.3L509.4,217.5L510.1,214.5L512.7,214.0L512.8,216.0L510.7,216.7L511.0,217.8L513.7,217.5L514.7,218.0L516.9,218.2L520.3,217.9L521.3,220.1L523.7,220.5L524.6,223.6L521.0,223.1L517.9,225.0L516.9,221.9L513.9,220.6L514.2,222.8L512.7,224.0L509.9,224.3Z" fill="#fed976"><title>Tajikistan</title></path>
<path d="M498.1,242.9L499.7,240.4L499.5,238.8L497.0,236.7L495.3,231.8L496.0,227.9L498.6,228.7L500.2,227.3L502.8,226.1L503.0,224.0L504.6,222.8L506.5,223.4L509.4,223.7L509.9,224.3L512.7,224.0L514.2,222.8L513.9,220.6L516.9,221.9L517.9,225.0L521.0,223.1L524.6,223.6L523.0,224.7L519.8,224.8L518.1,225.8L517.5,226.7L518.8,228.4L518.3,231.2L518.5,231.9L516.1,232.1L517.2,233.9L515.6,234.4L515.8,237.5L513.3,238.1L509.9,240.1L510.2,242.9L505.3,244.0L502.0,244.0Z" fill="#feb24c"><title>Afghanistan</title></path>
<path d="M501.5,255.0L501.7,252.4L504.6,251.3L504.6,249.8L503.5,249.6L503.1,247.0L500.6,245.1L498.1,242.9L502.0,244.0L505.3,244.0L510.2,242.9L509.9,240.1L513.3,238.1L515.8,237.5L515.6,234.4L517.2,233.9L516.1,232.1L518.5,231.9L518.3,231.2L518.8,228.4L517.5,226.7L518.1,225.8L519.8,224.8L523.0,224.7L524.6,223.6L527.3,225.3L528.4,227.3L532.2,228.2L530.8,229.5L525.5,230.1L524.2,230.4L525.1,232.8L526.3,235.2L528.8,236.5L527.9,239.6L526.8,241.4L525.2,245.1L523.5,247.8L520.1,247.7L518.7,249.8L520.3,251.5L520.4,253.7L522.8,256.4L522.9,257.2L518.0,257.3L516.8,258.9L514.9,258.1L513.8,256.0L512.4,254.5L508.0,254.8L503.5,255.0Z" fill="#feb24c"><title>Pakistan</title></path>
<path d="M516.8,258.9L518.0,257.3L522.9,257.2L522.8,256.4L520.4,253.7L520.3,251.5L518.7,249.8L520.1,247.7L523.5,247.8L525.2,245.1L526.8,241.4L527.9,239.6L528.8,236.5L526.3,235.2L525.1,232.8L524.2,230.4L525.5,230.1L530.8,229.5L532.2,228.2L533.9,230.5L535.6,231.3L537.4,235.8L535.5,236.0L537.1,239.1L539.5,240.0L542.6,242.0L541.3,243.1L541.3,245.6L545.6,247.9L549.2,249.4L551.0,249.1L554.0,250.9L557.9,251.7L560.4,251.9L559.6,247.9L561.1,247.6L561.7,249.5L562.3,250.9L565.3,250.7L569.1,250.7L567.8,248.3L568.6,248.2L571.2,246.0L574.2,244.6L576.8,244.3L579.9,247.0L579.9,250.0L578.1,249.6L576.0,251.3L576.5,252.9L575.6,255.0L575.2,258.1L573.5,258.4L573.7,262.8L572.7,265.1L572.5,263.6L571.2,259.9L569.8,260.7L568.5,258.1L570.6,257.3L570.7,255.5L564.8,254.7L563.5,252.9L561.0,251.6L561.2,253.4L561.3,256.5L562.8,259.1L563.7,261.0L564.5,264.2L562.1,264.1L560.0,265.1L559.2,268.0L556.1,270.3L552.8,274.5L550.8,277.1L548.5,278.9L546.2,281.5L547.1,286.5L546.4,290.7L546.5,293.8L545.1,296.4L543.1,297.7L541.7,299.6L540.1,298.5L538.5,294.7L537.2,291.4L534.6,287.0L532.0,280.5L530.2,276.3L528.5,271.1L527.7,265.7L527.2,262.7L526.3,265.4L524.0,266.7L522.3,266.2L519.0,262.7L521.8,260.8L518.9,261.2Z" fill="#fed976"><title>India</title></path>
<path d="M541.3,245.6L541.3,243.1L542.6,242.0L544.9,241.6L549.5,244.3L552.6,246.1L554.9,247.7L556.9,247.8L559.6,247.9L560.4,251.9L557.9,251.7L554.0,250.9L551.0,249.1L549.2,249.4L545.6,247.9Z" fill="#fed976"><title>Nepal</title></path>
<path d="M561.7,249.5L562.3,250.9L565.3,250.7L569.1,250.7L567.8,248.3L564.9,247.4L562.8,247.3Z" fill="#fed976"><title>Bhutan</title></path>
<path d="M564.5,264.2L563.7,261.0L562.8,259.1L561.3,256.5L561.2,253.4L561.0,251.6L563.5,252.9L564.8,254.7L570.7,255.5L570.6,257.3L568.5,258.1L569.8,260.7L571.2,259.9L572.5,263.6L572.7,265.1L572.2,266.7L570.5,262.5L568.2,262.3L567.3,263.8Z" fill="#ffeda0"><title>Bangladesh</title></path>
<path d="M546.7,295.2L547.5,295.1L550.0,298.5L551.6,301.3L551.4,303.7L548.9,305.1L547.6,304.7L547.1,302.5L546.7,299.2L547.3,297.2Z" fill="#ffeda0"><title>Sri Lanka</title></path>
<path d="M637.5,210.3L637.0,207.5L635.0,203.9L638.4,203.4L637.9,199.8L637.4,196.7L636.7,194.8L633.1,195.7L629.7,196.7L626.8,193.7L619.2,191.4L618.1,190.1L610.8,184.4L609.1,183.3L604.3,182.0L599.7,182.7L599.0,184.4L601.6,186.0L601.5,190.1L600.0,192.2L597.2,191.3L597.4,195.5L599.1,196.5L602.9,196.7L607.7,198.2L608.7,199.3L604.9,199.5L602.5,200.3L599.0,203.6L594.6,203.5L596.3,206.9L594.7,209.5L588.9,210.2L584.7,212.3L575.1,209.8L566.5,209.4L563.6,206.2L561.4,205.4L556.6,203.6L550.9,202.8L548.6,198.5L543.9,196.0L540.1,192.9L539.2,193.2L536.8,194.9L537.8,198.2L532.6,198.0L532.9,202.3L528.8,203.9L531.3,208.7L531.8,210.8L528.6,213.0L525.9,213.9L524.5,215.4L522.0,215.3L520.4,216.5L520.3,217.9L521.3,220.1L523.7,220.5L524.6,223.6L527.3,225.3L528.4,227.3L532.2,228.2L533.9,230.5L535.6,231.3L537.4,235.8L535.5,236.0L537.1,239.1L539.5,240.0L542.6,242.0L544.9,241.6L549.5,244.3L552.6,246.1L554.9,247.7L556.9,247.8L559.6,247.9L561.1,247.6L561.7,249.5L562.8,247.3L564.9,247.4L567.8,248.3L568.6,248.2L571.2,246.0L574.2,244.6L576.8,244.3L579.9,247.0L583.5,248.7L584.4,253.2L582.9,258.1L585.4,258.1L587.1,260.4L587.3,263.1L589.8,264.6L591.9,264.5L593.5,265.4L592.9,262.0L593.8,262.1L596.3,261.5L598.7,261.2L600.8,259.9L603.7,261.2L605.0,263.6L607.4,264.6L608.7,264.1L611.0,264.6L612.2,267.7L613.6,267.7L613.0,265.4L615.6,264.6L619.6,262.8L621.1,262.5L623.8,261.5L626.2,259.9L628.7,256.8L631.4,253.7L631.6,251.1L632.3,247.7L633.7,245.9L633.4,242.7L630.9,241.7L632.5,240.1L632.0,238.6L628.7,235.7L625.7,231.3L622.6,229.5L623.8,226.7L627.6,224.5L627.5,223.2L624.8,223.0L622.7,222.2L619.3,223.2L615.3,220.1L615.2,218.6L617.8,218.0L619.6,214.4L622.5,215.2L622.6,219.6L625.4,217.5L627.7,216.6L629.9,213.9L630.6,211.8L633.9,212.9L632.6,211.3L635.5,210.2ZM610.0,270.6L611.5,268.5L614.6,268.5L614.2,271.6L612.2,273.2L610.3,272.4Z" fill="#ffeda0"><title>China</title></path>
<path d="M635.0,255.5L636.1,254.7L637.2,256.3L636.9,260.4L636.2,263.6L634.1,260.7L634.4,257.1Z" fill="#ffeda0"><title>Taiwan</title></path>
<path d="M540.1,192.9L543.0,191.2L546.6,189.1L553.5,190.9L559.5,191.2L558.7,188.4L558.6,185.9L566.2,187.6L567.3,189.4L573.0,189.9L577.3,190.4L580.5,192.4L584.8,192.9L588.5,192.4L591.7,190.1L594.6,190.9L597.2,191.3L597.4,195.5L599.1,196.5L602.9,196.7L607.7,198.2L608.7,199.3L604.9,199.5L602.5,200.3L599.0,203.6L594.6,203.5L596.3,206.9L594.7,209.5L588.9,210.2L584.7,212.3L575.1,209.8L566.5,209.4L563.6,206.2L561.4,205.4L556.6,203.6L550.9,202.8L548.6,198.5L543.9,196.0Z" fill="#fed976"><title>Mongolia</title></path>
<path d="M627.7,216.6L629.9,213.9L630.6,211.8L633.9,212.9L632.6,211.3L635.5,210.2L637.5,210.3L637.9,210.5L637.7,213.9L636.9,215.2L634.8,217.3L635.3,218.6L638.1,220.1L635.6,220.9L634.4,222.3L631.9,222.2L631.4,220.1L630.2,217.8Z" fill="#fed976"><title>North Korea</title></path>
<path d="M634.4,222.3L635.6,220.9L638.1,220.1L642.4,224.3L644.1,227.9L643.8,229.2L641.2,230.2L638.9,231.0L637.7,228.2L636.6,225.3L636.6,224.3Z" fill="#ffffcc"><title>South Korea</title></path>
<path d="M660.6,212.6L662.1,213.0L663.3,215.2L666.0,217.8L666.7,220.9L665.8,221.1L667.4,224.3L667.5,226.1L668.8,227.6L668.4,229.2L667.4,229.5L666.6,228.2L665.8,229.2L665.7,230.5L664.4,230.5L661.8,230.5L661.9,231.3L661.1,232.3L660.5,233.5L658.5,232.3L657.9,230.5L655.3,230.5L653.4,231.3L651.9,231.3L649.5,232.2L648.8,231.3L650.4,230.2L651.4,228.3L654.6,228.0L656.8,227.8L658.3,227.6L658.5,225.0L657.9,223.5L658.8,223.0L659.1,224.8L661.6,223.5L662.4,221.1L662.0,218.6L659.9,214.9L659.8,213.4ZM658.7,212.6L658.0,210.5L656.5,209.8L656.8,208.0L658.5,208.0L657.6,205.4L655.9,202.3L659.9,204.9L663.6,206.3L665.0,205.3L667.8,207.8L665.5,208.9L664.8,211.3L660.8,209.9L659.0,210.0L660.7,211.8ZM652.5,233.6L653.4,231.8L655.6,231.2L657.3,231.5L657.7,232.6L657.2,234.0L655.1,233.6L655.2,235.3L653.6,234.7ZM649.3,232.3L651.4,233.1L652.7,234.7L653.1,238.3L652.6,239.9L651.9,239.9L650.5,239.1L649.7,237.0L648.3,235.7L647.0,234.1L648.3,233.1Z" fill="#ffffcc"><title>Japan</title></path>
<path d="M572.2,266.7L573.8,268.5L576.8,271.6L578.4,275.6L578.4,278.9L581.0,279.6L582.8,277.6L584.5,276.6L585.8,277.6L586.5,281.5L588.0,284.7L589.3,289.4L589.8,294.6L590.1,292.7L590.8,290.1L591.2,287.8L590.0,284.7L587.6,281.3L588.2,278.7L585.3,274.2L585.5,272.2L585.5,269.3L587.7,269.0L590.0,267.6L590.9,265.9L591.9,264.5L589.8,264.6L587.3,263.1L587.1,260.4L585.4,258.1L582.9,258.1L584.4,253.2L583.5,248.7L579.9,247.0L579.9,250.0L578.1,249.6L576.0,251.3L576.5,252.9L575.6,255.0L575.2,258.1L573.5,258.4L573.7,262.8L572.7,265.1Z" fill="#feb24c"><title>Myanmar</title></path>
<path d="M589.8,294.6L590.1,292.7L590.8,290.1L591.2,287.8L590.0,284.7L587.6,281.3L588.2,278.7L585.3,274.2L585.5,272.2L585.5,269.3L587.7,269.0L590.0,267.6L591.0,268.0L591.5,269.8L592.8,269.8L593.1,274.5L595.4,273.2L596.9,274.0L598.3,272.7L601.6,275.0L602.2,277.9L604.3,280.0L604.5,282.8L603.8,283.4L599.0,283.4L597.9,285.2L597.9,287.8L599.3,290.3L597.0,288.1L594.7,287.7L594.2,285.7L593.3,285.4L592.2,286.0L592.5,289.4L591.1,293.5L591.5,296.4L593.5,298.7L594.8,301.9L597.7,303.7L598.4,304.3L596.2,305.9L594.2,303.3L593.8,303.8L592.8,302.4L590.3,299.5L589.4,300.0L589.2,297.2Z" fill="#ffeda0"><title>Thailand</title></path>
<path d="M590.0,267.6L590.9,265.9L591.9,264.5L593.5,265.4L592.9,262.0L593.8,262.1L595.8,264.1L596.4,266.4L600.1,267.0L599.2,270.1L602.3,272.2L605.9,276.5L608.7,280.5L609.1,282.3L606.8,283.0L605.5,284.4L603.8,283.4L604.5,282.8L604.3,280.0L602.2,277.9L601.6,275.0L598.3,272.7L596.9,274.0L595.4,273.2L593.1,274.5L592.8,269.8L591.5,269.8L591.0,268.0Z" fill="#feb24c"><title>Laos</title></path>
<path d="M599.3,290.3L597.9,287.8L597.9,285.2L599.0,283.4L603.8,283.4L605.5,284.4L606.8,283.0L609.1,282.3L609.3,285.4L609.6,288.3L607.3,290.1L606.3,292.0L603.1,293.5L601.1,293.3L599.9,292.0Z" fill="#fed976"><title>Cambodia</title></path>
<path d="M603.1,293.5L604.3,295.9L604.3,298.2L605.6,297.7L608.4,295.3L609.2,293.5L613.1,291.2L613.7,288.8L614.0,287.0L613.1,284.1L612.0,280.8L610.1,278.7L607.0,276.1L605.3,273.7L603.3,271.4L603.4,269.0L604.9,267.0L605.4,265.9L607.4,264.6L605.0,263.6L603.7,261.2L600.8,259.9L598.7,261.2L596.3,261.5L593.8,262.1L595.8,264.1L596.4,266.4L600.1,267.0L599.2,270.1L602.3,272.2L605.9,276.5L608.7,280.5L609.1,282.3L609.3,285.4L609.6,288.3L607.3,290.1L606.3,292.0Z" fill="#ffeda0"><title>Vietnam</title></path>
<path d="M593.8,303.8L594.2,303.3L596.2,305.9L598.4,304.3L601.6,308.1L601.7,312.3L603.7,318.8L602.1,319.1L596.9,314.4L595.2,309.9L594.4,306.5ZM616.1,317.3L619.8,315.1L620.2,316.0L623.9,313.3L626.0,308.7L629.2,307.6L630.7,304.7L632.2,302.4L634.3,303.9L635.1,305.5L637.9,306.8L635.7,309.3L634.4,310.1L630.7,309.6L629.4,314.0L627.7,318.6L624.0,318.8L621.3,319.7L618.3,319.9L616.1,317.6Z" fill="#ffeda0"><title>Malaysia</title></path>
<path d="M626.3,308.7L629.0,307.6L628.6,309.6Z" fill="#ffeda0"><title>Brunei</title></path>
<path d="M582.8,306.0L587.9,306.9L590.8,311.3L594.9,316.4L597.2,318.1L601.0,320.2L602.3,321.5L604.4,323.6L607.7,327.2L607.0,335.7L604.3,334.9L599.1,330.4L594.9,321.5L591.7,319.7L588.4,316.0L584.6,309.9ZM605.5,338.3L607.4,336.0L609.3,336.4L613.3,338.0L617.4,338.6L618.9,337.3L622.5,338.6L622.7,339.3L626.5,340.8L626.3,343.3L622.5,342.5L616.4,341.2L613.2,340.7L608.4,339.9ZM614.8,320.5L615.5,320.6L615.0,321.4L617.3,322.8L617.4,326.8L620.9,327.2L623.9,327.9L627.5,328.7L627.7,331.1L630.8,329.2L632.0,325.2L631.6,322.4L634.0,321.1L634.7,320.5L637.6,319.7L635.1,317.6L635.2,314.0L634.4,310.1L630.7,309.6L629.4,314.0L627.7,318.6L624.0,318.8L621.3,319.7L618.3,319.9L616.1,317.6L616.1,317.3L614.8,318.6L614.6,320.0ZM639.7,320.0L642.0,319.1L647.1,319.7L651.2,318.6L652.2,318.4L650.1,320.4L647.1,320.4L642.5,320.4L640.4,321.1L642.0,322.1L643.9,321.3L647.8,321.4L648.0,321.5L645.5,323.1L643.6,323.6L645.3,328.2L647.0,331.6L646.1,333.1L643.5,332.8L642.3,327.2L641.0,326.5L640.8,333.1L640.4,335.1L638.6,335.1L638.8,328.9L637.3,326.1L638.6,322.1L639.7,320.6ZM665.6,321.2L669.1,320.8L672.7,321.2L674.4,327.9L675.8,328.5L679.4,323.9L682.8,323.4L688.5,325.8L687.4,344.3L683.0,341.7L680.0,342.5L682.3,339.3L681.2,334.9L675.6,332.2L671.1,329.9L669.5,330.6L667.7,326.5L671.2,325.5L672.2,324.5L668.5,324.5L665.5,322.4ZM626.7,341.7L629.4,342.5L628.2,343.5ZM629.8,342.5L631.7,342.5L630.9,343.9ZM631.9,343.0L634.5,341.7L637.0,342.7L635.5,343.8L632.3,344.0ZM639.0,342.5L641.6,342.5L645.7,342.2L645.7,343.3L642.2,343.8L639.0,343.5ZM636.8,345.1L639.8,345.1L640.7,346.9L638.5,346.6ZM646.9,347.4L648.3,344.9L650.7,343.9L650.8,345.1L649.0,346.9ZM657.3,319.7L658.6,316.7L660.2,318.6L658.7,320.4L659.6,321.2L658.2,320.7ZM658.2,327.9L662.0,326.5L664.9,328.2L664.0,329.6L660.3,328.9ZM653.9,327.9L656.2,327.9L656.3,329.6L654.3,329.9ZM606.2,322.8L608.3,322.8L609.4,327.2L607.6,325.5ZM648.5,342.2L651.0,342.0L649.6,342.7ZM664.7,340.4L666.4,339.3L666.0,341.4ZM664.0,321.5L665.4,320.7L666.3,320.8L665.3,321.5ZM645.8,333.6L647.2,333.1L646.4,335.2ZM652.6,323.4L654.7,323.4L653.7,323.9Z" fill="#fed976"><title>Indonesia</title></path>
<path d="M650.7,343.9L653.1,342.7L656.1,342.5L654.1,344.0L650.8,345.1Z" fill="#feb24c"><title>Timor</title></path>
<path d="M637.3,272.4L641.0,272.4L641.9,276.3L640.7,279.2L641.3,283.4L644.7,284.4L647.6,287.9L645.7,286.7L642.5,285.2L639.2,284.7L639.0,282.8L637.4,281.5L636.5,278.2L637.7,277.4L637.3,275.0ZM644.1,302.5L647.3,297.9L650.1,298.5L651.6,295.2L654.4,301.6L653.9,304.2L652.2,306.0L651.6,304.7L648.8,303.7L648.6,300.8L646.3,301.1ZM648.1,288.1L650.4,288.1L651.8,292.0L650.4,294.3L648.8,292.2ZM643.0,289.9L645.7,290.7L646.4,293.5L646.0,296.9L644.5,295.3L643.4,293.3ZM632.8,298.7L637.3,292.2L637.4,291.2L635.3,295.3ZM638.9,285.7L641.2,286.0L641.5,288.6L640.4,288.3ZM646.6,293.0L647.8,291.4L647.2,294.8Z" fill="#fed976"><title>Philippines</title></path>
<path d="M690.4,348.5L692.0,353.9L692.1,357.8L695.2,359.7L694.8,363.3L695.6,366.2L695.5,369.8L698.8,372.7L700.8,375.8L701.2,378.9L703.0,381.8L705.1,383.1L706.4,386.5L705.6,390.4L705.2,394.0L705.0,395.2L701.7,400.0L698.6,404.5L694.1,408.4L691.4,411.7L687.8,415.6L686.0,418.2L681.2,419.3L676.0,422.4L674.9,420.6L673.6,420.3L670.3,421.6L666.9,420.4L664.8,419.5L664.5,416.7L665.6,413.3L663.8,413.3L664.8,411.2L664.7,409.1L662.4,412.1L662.8,409.9L665.5,406.8L665.9,405.5L662.9,408.4L659.2,411.2L658.0,410.4L657.5,406.5L657.2,404.2L652.5,402.6L647.5,403.1L640.2,404.7L635.2,406.5L633.1,408.9L629.6,408.9L625.4,409.0L620.0,411.7L615.7,411.5L614.3,410.0L614.8,408.1L616.7,407.3L617.9,403.9L617.8,399.5L618.1,395.6L617.8,391.7L617.2,388.6L618.4,385.4L618.4,383.1L619.8,379.5L621.3,377.4L621.7,379.2L624.4,376.6L627.7,374.2L633.0,372.7L637.7,371.6L641.2,367.5L642.3,364.9L644.7,365.9L645.2,362.8L648.7,360.4L651.5,357.1L654.9,357.1L656.2,359.7L659.2,359.4L660.1,356.0L663.0,352.9L667.0,352.1L667.3,350.3L669.4,351.3L673.2,352.4L677.1,352.4L674.7,355.2L672.9,359.4L675.4,362.0L678.9,364.3L681.0,366.2L683.8,366.2L685.9,362.3L687.4,357.1L687.7,353.4L689.4,349.2ZM669.9,426.5L673.1,427.6L677.2,427.0L675.4,429.9L672.4,433.0L669.4,434.0L667.9,432.2L668.8,429.4ZM659.5,413.8L661.9,413.3L662.6,414.1L660.0,414.5ZM662.2,350.3L664.5,350.0L663.5,351.3ZM675.6,356.8L676.5,356.5L675.9,357.6Z" fill="#ffeda0"><title>Australia</title></path>
<path d="M739.9,410.2L742.0,412.5L740.7,416.4L743.4,415.9L741.9,418.5L743.8,419.5L747.1,418.8L743.3,422.4L740.9,423.2L739.1,425.2L733.0,428.9L732.6,428.1L735.3,425.2L734.3,423.4L734.2,422.9L736.7,421.9L739.5,418.0L740.2,415.1L739.4,412.3ZM729.7,426.0L731.4,427.0L730.7,429.1L725.1,432.7L723.6,434.0L723.7,434.6L718.8,436.1L714.6,439.9L710.5,441.7L708.0,441.7L705.6,440.7L706.2,439.4L712.2,435.8L718.6,433.0L723.0,430.7L724.8,429.1L727.8,426.8Z" fill="#ffeda0"><title>New Zealand</title></path>
<path d="M688.5,325.8L691.9,327.9L694.4,329.1L696.4,330.3L699.3,333.6L701.7,336.2L703.7,337.0L703.7,338.0L701.7,338.2L702.3,340.1L704.2,341.7L706.5,344.2L707.9,345.9L709.6,347.4L709.3,348.3L707.3,347.7L703.2,347.0L701.3,345.3L699.2,341.7L696.5,340.7L694.4,341.2L693.1,342.5L692.0,344.3L687.4,344.3ZM704.9,335.4L707.7,335.1L709.3,334.9L712.5,331.3L714.4,331.3L713.5,334.7L709.9,336.7L706.5,336.7ZM711.1,325.8L713.8,327.9L716.0,331.9L715.3,332.5L712.7,327.9ZM719.7,334.9L722.3,337.8L720.9,338.0ZM701.5,323.9L703.1,323.9L702.4,324.5Z" fill="#feb24c"><title>Papua New Guinea</title></path>
<path d="M723.4,337.8L726.0,339.6L725.7,340.4L723.8,339.1ZM727.4,339.9L731.1,342.2L730.6,343.0L727.7,341.2ZM730.2,344.6L733.0,345.9L732.4,346.6L730.2,345.9ZM732.7,342.2L734.2,345.1L733.5,345.9L732.4,343.3ZM733.8,347.2L736.2,348.2L735.6,349.0L733.7,347.9ZM724.7,341.2L726.7,342.7L725.9,343.5L724.6,342.2Z" fill="#fd8d3c"><title>Solomon Islands</title></path>
<path d="M743.8,358.9L745.5,359.7L745.2,361.5L743.8,361.5ZM744.8,362.0L746.2,363.0L745.7,364.1L744.7,363.6ZM746.0,365.9L746.9,366.7L746.1,367.2Z" fill="#feb24c"><title>Vanuatu</title></path>
<path d="M734.9,372.4L738.1,374.8L740.7,378.1L740.0,379.2L736.8,377.4L734.6,374.2Z" fill="url(#hatch)"><title>New Caledonia</title></path>
<path d="M766.7,365.9L770.1,365.9L769.6,368.0L766.3,368.3ZM770.1,364.3L773.9,362.5L773.5,364.1L770.8,365.1Z" fill="#fd8d3c"><title>Fiji</title></path>
<path d="M-32.4,355.8L-31.0,356.0L-31.6,356.5ZM-30.2,356.7L-29.0,357.1L-29.9,357.2Z" fill="#fed976"><title>Samoa</title></path>
<path d="M-33.5,375.5L-32.8,375.7L-33.2,375.9Z" fill="#fed976"><title>Tonga</title></path>
</g>
<g id="legend">
<rect x="98.3" y="517" width="48.4" height="11.7" fill="url(#hatch)" stroke="#c4c4c4" stroke-width=".7"/>
<line x1="122.4" y1="514.2" x2="122.4" y2="517" stroke="#b0b0b0" stroke-width=".8"/>
<text class="lg" x="122" y="509.5">No data</text>
<g stroke="#8a8a8a" stroke-width=".5">
<rect x="166" y="517" width="58.4" height="11.7" fill="#ffffcc"/>
<rect x="224.4" y="517" width="58.4" height="11.7" fill="#ffeda0"/>
<rect x="282.8" y="517" width="58.4" height="11.7" fill="#fed976"/>
<rect x="341.2" y="517" width="58.4" height="11.7" fill="#feb24c"/>
<rect x="399.6" y="517" width="58.4" height="11.7" fill="#fd8d3c"/>
<rect x="458" y="517" width="58.4" height="11.7" fill="#fc4e2a"/>
<rect x="516.4" y="517" width="58.4" height="11.7" fill="#e31a1c"/>
<rect x="574.8" y="517" width="58.4" height="11.7" fill="#bd0026"/>
<rect x="633.2" y="517" width="58.4" height="11.7" fill="#9e0026"/>
<path d="M691.6,517H745L751,522.85L745,528.7H691.6Z" fill="#800026"/>
</g>
<g stroke="#c2c2c2" stroke-width=".9">
<line x1="166" y1="501" x2="166" y2="528.7"/><line x1="282.8" y1="501" x2="282.8" y2="528.7"/><line x1="399.6" y1="501" x2="399.6" y2="528.7"/><line x1="516.4" y1="501" x2="516.4" y2="528.7"/><line x1="633.2" y1="501" x2="633.2" y2="528.7"/>
<line x1="224.4" y1="514" x2="224.4" y2="528.7"/><line x1="341.2" y1="514" x2="341.2" y2="528.7"/><line x1="458" y1="514" x2="458" y2="528.7"/><line x1="574.8" y1="514" x2="574.8" y2="528.7"/><line x1="691.6" y1="514" x2="691.6" y2="528.7"/>
</g>
<text class="lg" x="166" y="495.5">10,000</text>
<text class="lg" x="282.8" y="495.5">30,000</text>
<text class="lg" x="399.6" y="495.5">50,000</text>
<text class="lg" x="516.4" y="495.5">70,000</text>
<text class="lg" x="633.2" y="495.5">90,000</text>
<text class="lg" x="224.4" y="509.5">20,000</text>
<text class="lg" x="341.2" y="509.5">40,000</text>
<text class="lg" x="458" y="509.5">60,000</text>
<text class="lg" x="574.8" y="509.5">80,000</text>
<text class="lg" x="691.6" y="509.5">100,000</text>
</g>
<g id="footer">
<text class="ft" x="16" y="560" textLength="300" lengthAdjust="spacingAndGlyphs"><tspan font-weight="bold">Data source:</tspan> IHME, Global Burden of Disease (2025)</text>
<text class="ft" x="558.5" y="560" textLength="273" lengthAdjust="spacingAndGlyphs">OurWorldinData.org/burden-of-disease | CC BY</text>
<text class="ft" x="16" y="580" textLength="549" lengthAdjust="spacingAndGlyphs"><tspan font-weight="bold">Note:</tspan> To allow for comparisons between countries and over time, this metric is age-standardized.</text>
</g>
</svg>
</body>
</html>
